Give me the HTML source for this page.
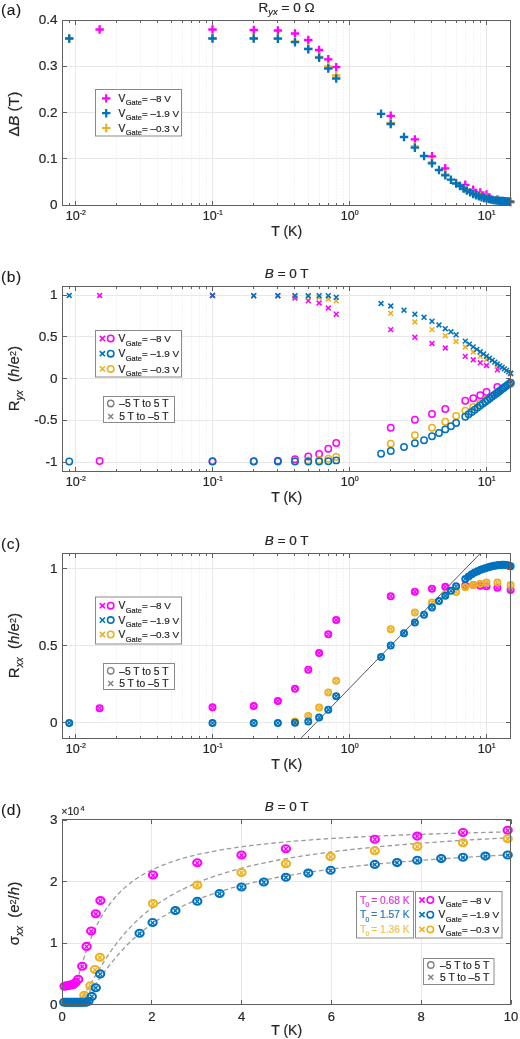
<!DOCTYPE html>
<html><head><meta charset="utf-8"><style>
html,body{margin:0;padding:0;background:#fff;}
svg{display:block;filter:blur(0.35px);}
text{font-family:"Liberation Sans",sans-serif;}
</style></head><body>
<svg width="520" height="1039" viewBox="0 0 520 1039">
<rect width="520" height="1039" fill="#fff"/>
<line x1="69.5" y1="20.5" x2="69.5" y2="205.5" stroke="#e8e8e8" stroke-width="1" stroke-dasharray="1 2"/>
<line x1="75.5" y1="20.5" x2="75.5" y2="205.5" stroke="#e8e8e8" stroke-width="1"/>
<line x1="116.5" y1="20.5" x2="116.5" y2="205.5" stroke="#e8e8e8" stroke-width="1" stroke-dasharray="1 2"/>
<line x1="140.5" y1="20.5" x2="140.5" y2="205.5" stroke="#e8e8e8" stroke-width="1" stroke-dasharray="1 2"/>
<line x1="157.5" y1="20.5" x2="157.5" y2="205.5" stroke="#e8e8e8" stroke-width="1" stroke-dasharray="1 2"/>
<line x1="171.5" y1="20.5" x2="171.5" y2="205.5" stroke="#e8e8e8" stroke-width="1" stroke-dasharray="1 2"/>
<line x1="182.5" y1="20.5" x2="182.5" y2="205.5" stroke="#e8e8e8" stroke-width="1" stroke-dasharray="1 2"/>
<line x1="191.5" y1="20.5" x2="191.5" y2="205.5" stroke="#e8e8e8" stroke-width="1" stroke-dasharray="1 2"/>
<line x1="199.5" y1="20.5" x2="199.5" y2="205.5" stroke="#e8e8e8" stroke-width="1" stroke-dasharray="1 2"/>
<line x1="206.5" y1="20.5" x2="206.5" y2="205.5" stroke="#e8e8e8" stroke-width="1" stroke-dasharray="1 2"/>
<line x1="212.5" y1="20.5" x2="212.5" y2="205.5" stroke="#e8e8e8" stroke-width="1"/>
<line x1="253.5" y1="20.5" x2="253.5" y2="205.5" stroke="#e8e8e8" stroke-width="1" stroke-dasharray="1 2"/>
<line x1="277.5" y1="20.5" x2="277.5" y2="205.5" stroke="#e8e8e8" stroke-width="1" stroke-dasharray="1 2"/>
<line x1="294.5" y1="20.5" x2="294.5" y2="205.5" stroke="#e8e8e8" stroke-width="1" stroke-dasharray="1 2"/>
<line x1="308.5" y1="20.5" x2="308.5" y2="205.5" stroke="#e8e8e8" stroke-width="1" stroke-dasharray="1 2"/>
<line x1="319.5" y1="20.5" x2="319.5" y2="205.5" stroke="#e8e8e8" stroke-width="1" stroke-dasharray="1 2"/>
<line x1="328.5" y1="20.5" x2="328.5" y2="205.5" stroke="#e8e8e8" stroke-width="1" stroke-dasharray="1 2"/>
<line x1="336.5" y1="20.5" x2="336.5" y2="205.5" stroke="#e8e8e8" stroke-width="1" stroke-dasharray="1 2"/>
<line x1="343.5" y1="20.5" x2="343.5" y2="205.5" stroke="#e8e8e8" stroke-width="1" stroke-dasharray="1 2"/>
<line x1="349.5" y1="20.5" x2="349.5" y2="205.5" stroke="#e8e8e8" stroke-width="1"/>
<line x1="390.5" y1="20.5" x2="390.5" y2="205.5" stroke="#e8e8e8" stroke-width="1" stroke-dasharray="1 2"/>
<line x1="414.5" y1="20.5" x2="414.5" y2="205.5" stroke="#e8e8e8" stroke-width="1" stroke-dasharray="1 2"/>
<line x1="431.5" y1="20.5" x2="431.5" y2="205.5" stroke="#e8e8e8" stroke-width="1" stroke-dasharray="1 2"/>
<line x1="445.5" y1="20.5" x2="445.5" y2="205.5" stroke="#e8e8e8" stroke-width="1" stroke-dasharray="1 2"/>
<line x1="456.5" y1="20.5" x2="456.5" y2="205.5" stroke="#e8e8e8" stroke-width="1" stroke-dasharray="1 2"/>
<line x1="465.5" y1="20.5" x2="465.5" y2="205.5" stroke="#e8e8e8" stroke-width="1" stroke-dasharray="1 2"/>
<line x1="473.5" y1="20.5" x2="473.5" y2="205.5" stroke="#e8e8e8" stroke-width="1" stroke-dasharray="1 2"/>
<line x1="480.5" y1="20.5" x2="480.5" y2="205.5" stroke="#e8e8e8" stroke-width="1" stroke-dasharray="1 2"/>
<line x1="486.5" y1="20.5" x2="486.5" y2="205.5" stroke="#e8e8e8" stroke-width="1"/>
<line x1="62.5" y1="158.5" x2="510.5" y2="158.5" stroke="#e8e8e8" stroke-width="1"/>
<line x1="62.5" y1="112.5" x2="510.5" y2="112.5" stroke="#e8e8e8" stroke-width="1"/>
<line x1="62.5" y1="66.5" x2="510.5" y2="66.5" stroke="#e8e8e8" stroke-width="1"/>
<path d="M95.42 29.5H103.82M99.62 25.3V33.7" stroke="#FF00FF" stroke-width="2.3" fill="none"/>
<path d="M208.3 29.5H216.7M212.5 25.3V33.7" stroke="#FF00FF" stroke-width="2.3" fill="none"/>
<path d="M249.54 30H257.94M253.74 25.8V34.2" stroke="#FF00FF" stroke-width="2.3" fill="none"/>
<path d="M273.67 30.5H282.07M277.87 26.3V34.7" stroke="#FF00FF" stroke-width="2.3" fill="none"/>
<path d="M290.78 33.5H299.18M294.98 29.3V37.7" stroke="#FF00FF" stroke-width="2.3" fill="none"/>
<path d="M304.06 40H312.46M308.26 35.8V44.2" stroke="#FF00FF" stroke-width="2.3" fill="none"/>
<path d="M314.91 50H323.31M319.11 45.8V54.2" stroke="#FF00FF" stroke-width="2.3" fill="none"/>
<path d="M324.08 59.3H332.48M328.28 55.1V63.5" stroke="#FF00FF" stroke-width="2.3" fill="none"/>
<path d="M332.02 67.2H340.42M336.22 63V71.4" stroke="#FF00FF" stroke-width="2.3" fill="none"/>
<path d="M386.54 115.8H394.94M390.74 111.6V120" stroke="#FF00FF" stroke-width="2.3" fill="none"/>
<path d="M410.67 139.4H419.07M414.87 135.2V143.6" stroke="#FF00FF" stroke-width="2.3" fill="none"/>
<path d="M427.78 156.3H436.18M431.98 152.1V160.5" stroke="#FF00FF" stroke-width="2.3" fill="none"/>
<path d="M441.06 168.3H449.46M445.26 164.1V172.5" stroke="#FF00FF" stroke-width="2.3" fill="none"/>
<path d="M461.08 184.8H469.48M465.28 180.6V189" stroke="#FF00FF" stroke-width="2.3" fill="none"/>
<path d="M469.02 189.8H477.42M473.22 185.6V194" stroke="#FF00FF" stroke-width="2.3" fill="none"/>
<path d="M476.03 192.4H484.43M480.23 188.2V196.6" stroke="#FF00FF" stroke-width="2.3" fill="none"/>
<path d="M482.3 194.4H490.7M486.5 190.2V198.6" stroke="#FF00FF" stroke-width="2.3" fill="none"/>
<path d="M493.15 199.5H501.55M497.35 195.3V203.7" stroke="#FF00FF" stroke-width="2.3" fill="none"/>
<path d="M506.42 202H514.82M510.62 197.8V206.2" stroke="#FF00FF" stroke-width="2.3" fill="none"/>
<path d="M65.03 38.5H73.43M69.23 34.3V42.7" stroke="#EDB120" stroke-width="2.3" fill="none"/>
<path d="M208.3 38.3H216.7M212.5 34.1V42.5" stroke="#EDB120" stroke-width="2.3" fill="none"/>
<path d="M249.54 38.3H257.94M253.74 34.1V42.5" stroke="#EDB120" stroke-width="2.3" fill="none"/>
<path d="M273.67 38.5H282.07M277.87 34.3V42.7" stroke="#EDB120" stroke-width="2.3" fill="none"/>
<path d="M290.78 41.3H299.18M294.98 37.1V45.5" stroke="#EDB120" stroke-width="2.3" fill="none"/>
<path d="M304.06 48.5H312.46M308.26 44.3V52.7" stroke="#EDB120" stroke-width="2.3" fill="none"/>
<path d="M314.91 56.8H323.31M319.11 52.6V61" stroke="#EDB120" stroke-width="2.3" fill="none"/>
<path d="M324.08 66.5H332.48M328.28 62.3V70.7" stroke="#EDB120" stroke-width="2.3" fill="none"/>
<path d="M332.02 75.5H340.42M336.22 71.3V79.7" stroke="#EDB120" stroke-width="2.3" fill="none"/>
<path d="M386.54 123H394.94M390.74 118.8V127.2" stroke="#EDB120" stroke-width="2.3" fill="none"/>
<path d="M410.67 146.5H419.07M414.87 142.3V150.7" stroke="#EDB120" stroke-width="2.3" fill="none"/>
<path d="M427.78 162.5H436.18M431.98 158.3V166.7" stroke="#EDB120" stroke-width="2.3" fill="none"/>
<path d="M441.06 174.5H449.46M445.26 170.3V178.7" stroke="#EDB120" stroke-width="2.3" fill="none"/>
<path d="M451.91 182.8H460.31M456.11 178.6V187" stroke="#EDB120" stroke-width="2.3" fill="none"/>
<path d="M461.08 189.3H469.48M465.28 185.1V193.5" stroke="#EDB120" stroke-width="2.3" fill="none"/>
<path d="M469.02 193.5H477.42M473.22 189.3V197.7" stroke="#EDB120" stroke-width="2.3" fill="none"/>
<path d="M476.03 196H484.43M480.23 191.8V200.2" stroke="#EDB120" stroke-width="2.3" fill="none"/>
<path d="M482.3 197.8H490.7M486.5 193.6V202" stroke="#EDB120" stroke-width="2.3" fill="none"/>
<path d="M493.15 200H501.55M497.35 195.8V204.2" stroke="#EDB120" stroke-width="2.3" fill="none"/>
<path d="M506.42 202H514.82M510.62 197.8V206.2" stroke="#EDB120" stroke-width="2.3" fill="none"/>
<path d="M65.03 38.5H73.43M69.23 34.3V42.7" stroke="#0072BD" stroke-width="2.3" fill="none"/>
<path d="M208.3 38.5H216.7M212.5 34.3V42.7" stroke="#0072BD" stroke-width="2.3" fill="none"/>
<path d="M249.54 38.5H257.94M253.74 34.3V42.7" stroke="#0072BD" stroke-width="2.3" fill="none"/>
<path d="M273.67 38.7H282.07M277.87 34.5V42.9" stroke="#0072BD" stroke-width="2.3" fill="none"/>
<path d="M290.78 42.2H299.18M294.98 38V46.4" stroke="#0072BD" stroke-width="2.3" fill="none"/>
<path d="M304.06 49.2H312.46M308.26 45V53.4" stroke="#0072BD" stroke-width="2.3" fill="none"/>
<path d="M314.91 57.7H323.31M319.11 53.5V61.9" stroke="#0072BD" stroke-width="2.3" fill="none"/>
<path d="M324.08 68.5H332.48M328.28 64.3V72.7" stroke="#0072BD" stroke-width="2.3" fill="none"/>
<path d="M332.02 78.5H340.42M336.22 74.3V82.7" stroke="#0072BD" stroke-width="2.3" fill="none"/>
<path d="M376.87 113.8H385.27M381.07 109.6V118" stroke="#0072BD" stroke-width="2.3" fill="none"/>
<path d="M386.54 124H394.94M390.74 119.8V128.2" stroke="#0072BD" stroke-width="2.3" fill="none"/>
<path d="M399.82 137H408.22M404.02 132.8V141.2" stroke="#0072BD" stroke-width="2.3" fill="none"/>
<path d="M410.67 147.7H419.07M414.87 143.5V151.9" stroke="#0072BD" stroke-width="2.3" fill="none"/>
<path d="M419.84 156H428.24M424.04 151.8V160.2" stroke="#0072BD" stroke-width="2.3" fill="none"/>
<path d="M427.78 163.4H436.18M431.98 159.2V167.6" stroke="#0072BD" stroke-width="2.3" fill="none"/>
<path d="M434.79 170H443.19M438.99 165.8V174.2" stroke="#0072BD" stroke-width="2.3" fill="none"/>
<path d="M441.06 175.4H449.46M445.26 171.2V179.6" stroke="#0072BD" stroke-width="2.3" fill="none"/>
<path d="M446.73 179.7H455.13M450.93 175.5V183.9" stroke="#0072BD" stroke-width="2.3" fill="none"/>
<path d="M451.91 183.5H460.31M456.11 179.3V187.7" stroke="#0072BD" stroke-width="2.3" fill="none"/>
<path d="M455.75 186.01H464.15M459.95 181.81V190.21" stroke="#0072BD" stroke-width="2.3" fill="none"/>
<path d="M459.35 188.5H467.75M463.55 184.3V192.7" stroke="#0072BD" stroke-width="2.3" fill="none"/>
<path d="M462.75 190.6H471.15M466.95 186.4V194.8" stroke="#0072BD" stroke-width="2.3" fill="none"/>
<path d="M465.97 192.41H474.37M470.17 188.21V196.61" stroke="#0072BD" stroke-width="2.3" fill="none"/>
<path d="M469.02 194.09H477.42M473.22 189.89V198.29" stroke="#0072BD" stroke-width="2.3" fill="none"/>
<path d="M471.93 195.25H480.33M476.13 191.05V199.45" stroke="#0072BD" stroke-width="2.3" fill="none"/>
<path d="M474.69 196.36H483.09M478.89 192.16V200.56" stroke="#0072BD" stroke-width="2.3" fill="none"/>
<path d="M477.34 197.23H485.74M481.54 193.03V201.43" stroke="#0072BD" stroke-width="2.3" fill="none"/>
<path d="M479.87 197.93H488.27M484.07 193.73V202.13" stroke="#0072BD" stroke-width="2.3" fill="none"/>
<path d="M482.3 198.6H490.7M486.5 194.4V202.8" stroke="#0072BD" stroke-width="2.3" fill="none"/>
<path d="M484.63 199.07H493.03M488.83 194.87V203.27" stroke="#0072BD" stroke-width="2.3" fill="none"/>
<path d="M486.88 199.52H495.28M491.08 195.32V203.72" stroke="#0072BD" stroke-width="2.3" fill="none"/>
<path d="M489.04 199.95H497.44M493.24 195.75V204.15" stroke="#0072BD" stroke-width="2.3" fill="none"/>
<path d="M491.13 200.33H499.53M495.33 196.13V204.53" stroke="#0072BD" stroke-width="2.3" fill="none"/>
<path d="M493.15 200.52H501.55M497.35 196.32V204.72" stroke="#0072BD" stroke-width="2.3" fill="none"/>
<path d="M495.1 200.7H503.5M499.3 196.5V204.9" stroke="#0072BD" stroke-width="2.3" fill="none"/>
<path d="M496.99 200.88H505.39M501.19 196.68V205.08" stroke="#0072BD" stroke-width="2.3" fill="none"/>
<path d="M498.82 201.05H507.22M503.02 196.85V205.25" stroke="#0072BD" stroke-width="2.3" fill="none"/>
<path d="M500.59 201.22H508.99M504.79 197.02V205.42" stroke="#0072BD" stroke-width="2.3" fill="none"/>
<path d="M502.32 201.38H510.72M506.52 197.18V205.58" stroke="#0072BD" stroke-width="2.3" fill="none"/>
<path d="M504 201.54H512.4M508.2 197.34V205.74" stroke="#0072BD" stroke-width="2.3" fill="none"/>
<path d="M505.63 201.69H514.03M509.83 197.49V205.89" stroke="#0072BD" stroke-width="2.3" fill="none"/>
<path d="M69.5 205.5v-2.5M69.5 20.5v2.5M75.5 205.5v-4.5M75.5 20.5v4.5M116.5 205.5v-2.5M116.5 20.5v2.5M140.5 205.5v-2.5M140.5 20.5v2.5M157.5 205.5v-2.5M157.5 20.5v2.5M171.5 205.5v-2.5M171.5 20.5v2.5M182.5 205.5v-2.5M182.5 20.5v2.5M191.5 205.5v-2.5M191.5 20.5v2.5M199.5 205.5v-2.5M199.5 20.5v2.5M206.5 205.5v-2.5M206.5 20.5v2.5M212.5 205.5v-4.5M212.5 20.5v4.5M253.5 205.5v-2.5M253.5 20.5v2.5M277.5 205.5v-2.5M277.5 20.5v2.5M294.5 205.5v-2.5M294.5 20.5v2.5M308.5 205.5v-2.5M308.5 20.5v2.5M319.5 205.5v-2.5M319.5 20.5v2.5M328.5 205.5v-2.5M328.5 20.5v2.5M336.5 205.5v-2.5M336.5 20.5v2.5M343.5 205.5v-2.5M343.5 20.5v2.5M349.5 205.5v-4.5M349.5 20.5v4.5M390.5 205.5v-2.5M390.5 20.5v2.5M414.5 205.5v-2.5M414.5 20.5v2.5M431.5 205.5v-2.5M431.5 20.5v2.5M445.5 205.5v-2.5M445.5 20.5v2.5M456.5 205.5v-2.5M456.5 20.5v2.5M465.5 205.5v-2.5M465.5 20.5v2.5M473.5 205.5v-2.5M473.5 20.5v2.5M480.5 205.5v-2.5M480.5 20.5v2.5M486.5 205.5v-4.5M486.5 20.5v4.5M62.5 205.5h4.5M510.5 205.5h-4.5M62.5 158.5h4.5M510.5 158.5h-4.5M62.5 112.5h4.5M510.5 112.5h-4.5M62.5 66.5h4.5M510.5 66.5h-4.5M62.5 20.5h4.5M510.5 20.5h-4.5" stroke="#606060" stroke-width="1" fill="none"/>
<rect x="62.5" y="20.5" width="448.0" height="185.0" fill="none" stroke="#606060" stroke-width="1"/>
<text x="57.5" y="209.1" font-size="13.5" text-anchor="end" fill="#262626" stroke="#262626" stroke-width="0.2" >0</text>
<text x="57.5" y="162.85" font-size="13.5" text-anchor="end" fill="#262626" stroke="#262626" stroke-width="0.2" >0.1</text>
<text x="57.5" y="116.6" font-size="13.5" text-anchor="end" fill="#262626" stroke="#262626" stroke-width="0.2" >0.2</text>
<text x="57.5" y="70.35" font-size="13.5" text-anchor="end" fill="#262626" stroke="#262626" stroke-width="0.2" >0.3</text>
<text x="57.5" y="24.1" font-size="13.5" text-anchor="end" fill="#262626" stroke="#262626" stroke-width="0.2" >0.4</text>
<text x="65.75" y="220" font-size="12.5" text-anchor="start" fill="#262626" stroke="#262626" stroke-width="0.2" >10</text>
<text x="79.65" y="215" font-size="7" text-anchor="start" fill="#262626" stroke="#262626" stroke-width="0.2" >-2</text>
<text x="202.75" y="220" font-size="12.5" text-anchor="start" fill="#262626" stroke="#262626" stroke-width="0.2" >10</text>
<text x="216.65" y="215" font-size="7" text-anchor="start" fill="#262626" stroke="#262626" stroke-width="0.2" >-1</text>
<text x="340.75" y="220" font-size="12.5" text-anchor="start" fill="#262626" stroke="#262626" stroke-width="0.2" >10</text>
<text x="354.65" y="215" font-size="7" text-anchor="start" fill="#262626" stroke="#262626" stroke-width="0.2" >0</text>
<text x="477.75" y="220" font-size="12.5" text-anchor="start" fill="#262626" stroke="#262626" stroke-width="0.2" >10</text>
<text x="491.65" y="215" font-size="7" text-anchor="start" fill="#262626" stroke="#262626" stroke-width="0.2" >1</text>
<text x="286.7" y="235.5" font-size="14" text-anchor="middle" fill="#262626" stroke="#262626" stroke-width="0.2" >T (K)</text>
<text x="258.5" y="12" font-size="13.5" fill="#262626" stroke="#262626" stroke-width="0.2" xml:space="preserve">R<tspan font-size="9.5" font-style="italic" dy="3">yx</tspan><tspan dy="-3"> = 0 Ω</tspan></text>
<text x="1" y="15.2" font-size="15.5" text-anchor="start" fill="#1a1a1a"  letter-spacing="0.6" stroke="#1a1a1a" stroke-width="0.12">(a)</text>
<text transform="translate(19.3,114) rotate(-90)" font-size="15.5" text-anchor="middle" fill="#262626" stroke="#262626" stroke-width="0.2">Δ<tspan font-style="italic">B</tspan> (T)</text>
<rect x="95.5" y="89.5" width="86" height="46.5" fill="#fff" stroke="#8a8a8a" stroke-width="1"/>
<path d="M102 98.4H110.4M106.2 94.2V102.6" stroke="#FF00FF" stroke-width="2.2" fill="none"/>
<text x="118.6" y="102" font-size="10.3" text-anchor="start" fill="#262626" stroke="#262626" stroke-width="0.2" >V</text>
<text x="125.8" y="105.4" font-size="7.4" text-anchor="start" fill="#262626" stroke="#262626" stroke-width="0.2" >Gate</text>
<text x="142" y="102" font-size="9.9" text-anchor="start" fill="#262626" stroke="#262626" stroke-width="0.2" >= –8 V</text>
<path d="M102 113.2H110.4M106.2 109V117.4" stroke="#0072BD" stroke-width="2.2" fill="none"/>
<text x="118.6" y="116.8" font-size="10.3" text-anchor="start" fill="#262626" stroke="#262626" stroke-width="0.2" >V</text>
<text x="125.8" y="120.2" font-size="7.4" text-anchor="start" fill="#262626" stroke="#262626" stroke-width="0.2" >Gate</text>
<text x="142" y="116.8" font-size="9.9" text-anchor="start" fill="#262626" stroke="#262626" stroke-width="0.2" >= –1.9 V</text>
<path d="M102 128H110.4M106.2 123.8V132.2" stroke="#EDB120" stroke-width="2.2" fill="none"/>
<text x="118.6" y="131.6" font-size="10.3" text-anchor="start" fill="#262626" stroke="#262626" stroke-width="0.2" >V</text>
<text x="125.8" y="135" font-size="7.4" text-anchor="start" fill="#262626" stroke="#262626" stroke-width="0.2" >Gate</text>
<text x="142" y="131.6" font-size="9.9" text-anchor="start" fill="#262626" stroke="#262626" stroke-width="0.2" >= –0.3 V</text>
<line x1="69.5" y1="286.5" x2="69.5" y2="471.5" stroke="#e8e8e8" stroke-width="1" stroke-dasharray="1 2"/>
<line x1="75.5" y1="286.5" x2="75.5" y2="471.5" stroke="#e8e8e8" stroke-width="1"/>
<line x1="116.5" y1="286.5" x2="116.5" y2="471.5" stroke="#e8e8e8" stroke-width="1" stroke-dasharray="1 2"/>
<line x1="140.5" y1="286.5" x2="140.5" y2="471.5" stroke="#e8e8e8" stroke-width="1" stroke-dasharray="1 2"/>
<line x1="157.5" y1="286.5" x2="157.5" y2="471.5" stroke="#e8e8e8" stroke-width="1" stroke-dasharray="1 2"/>
<line x1="171.5" y1="286.5" x2="171.5" y2="471.5" stroke="#e8e8e8" stroke-width="1" stroke-dasharray="1 2"/>
<line x1="182.5" y1="286.5" x2="182.5" y2="471.5" stroke="#e8e8e8" stroke-width="1" stroke-dasharray="1 2"/>
<line x1="191.5" y1="286.5" x2="191.5" y2="471.5" stroke="#e8e8e8" stroke-width="1" stroke-dasharray="1 2"/>
<line x1="199.5" y1="286.5" x2="199.5" y2="471.5" stroke="#e8e8e8" stroke-width="1" stroke-dasharray="1 2"/>
<line x1="206.5" y1="286.5" x2="206.5" y2="471.5" stroke="#e8e8e8" stroke-width="1" stroke-dasharray="1 2"/>
<line x1="212.5" y1="286.5" x2="212.5" y2="471.5" stroke="#e8e8e8" stroke-width="1"/>
<line x1="253.5" y1="286.5" x2="253.5" y2="471.5" stroke="#e8e8e8" stroke-width="1" stroke-dasharray="1 2"/>
<line x1="277.5" y1="286.5" x2="277.5" y2="471.5" stroke="#e8e8e8" stroke-width="1" stroke-dasharray="1 2"/>
<line x1="294.5" y1="286.5" x2="294.5" y2="471.5" stroke="#e8e8e8" stroke-width="1" stroke-dasharray="1 2"/>
<line x1="308.5" y1="286.5" x2="308.5" y2="471.5" stroke="#e8e8e8" stroke-width="1" stroke-dasharray="1 2"/>
<line x1="319.5" y1="286.5" x2="319.5" y2="471.5" stroke="#e8e8e8" stroke-width="1" stroke-dasharray="1 2"/>
<line x1="328.5" y1="286.5" x2="328.5" y2="471.5" stroke="#e8e8e8" stroke-width="1" stroke-dasharray="1 2"/>
<line x1="336.5" y1="286.5" x2="336.5" y2="471.5" stroke="#e8e8e8" stroke-width="1" stroke-dasharray="1 2"/>
<line x1="343.5" y1="286.5" x2="343.5" y2="471.5" stroke="#e8e8e8" stroke-width="1" stroke-dasharray="1 2"/>
<line x1="349.5" y1="286.5" x2="349.5" y2="471.5" stroke="#e8e8e8" stroke-width="1"/>
<line x1="390.5" y1="286.5" x2="390.5" y2="471.5" stroke="#e8e8e8" stroke-width="1" stroke-dasharray="1 2"/>
<line x1="414.5" y1="286.5" x2="414.5" y2="471.5" stroke="#e8e8e8" stroke-width="1" stroke-dasharray="1 2"/>
<line x1="431.5" y1="286.5" x2="431.5" y2="471.5" stroke="#e8e8e8" stroke-width="1" stroke-dasharray="1 2"/>
<line x1="445.5" y1="286.5" x2="445.5" y2="471.5" stroke="#e8e8e8" stroke-width="1" stroke-dasharray="1 2"/>
<line x1="456.5" y1="286.5" x2="456.5" y2="471.5" stroke="#e8e8e8" stroke-width="1" stroke-dasharray="1 2"/>
<line x1="465.5" y1="286.5" x2="465.5" y2="471.5" stroke="#e8e8e8" stroke-width="1" stroke-dasharray="1 2"/>
<line x1="473.5" y1="286.5" x2="473.5" y2="471.5" stroke="#e8e8e8" stroke-width="1" stroke-dasharray="1 2"/>
<line x1="480.5" y1="286.5" x2="480.5" y2="471.5" stroke="#e8e8e8" stroke-width="1" stroke-dasharray="1 2"/>
<line x1="486.5" y1="286.5" x2="486.5" y2="471.5" stroke="#e8e8e8" stroke-width="1"/>
<line x1="62.5" y1="462.5" x2="510.5" y2="462.5" stroke="#e8e8e8" stroke-width="1"/>
<line x1="62.5" y1="420.5" x2="510.5" y2="420.5" stroke="#e8e8e8" stroke-width="1"/>
<line x1="62.5" y1="378.5" x2="510.5" y2="378.5" stroke="#e8e8e8" stroke-width="1"/>
<line x1="62.5" y1="336.5" x2="510.5" y2="336.5" stroke="#e8e8e8" stroke-width="1"/>
<line x1="62.5" y1="295.5" x2="510.5" y2="295.5" stroke="#e8e8e8" stroke-width="1"/>
<circle cx="99.62" cy="461" r="3.2" stroke="#FF00FF" stroke-width="1.5" fill="none"/>
<circle cx="212.5" cy="461.3" r="3.2" stroke="#FF00FF" stroke-width="1.5" fill="none"/>
<circle cx="253.74" cy="461.3" r="3.2" stroke="#FF00FF" stroke-width="1.5" fill="none"/>
<circle cx="277.87" cy="460.8" r="3.2" stroke="#FF00FF" stroke-width="1.5" fill="none"/>
<circle cx="294.98" cy="459.2" r="3.2" stroke="#FF00FF" stroke-width="1.5" fill="none"/>
<circle cx="308.26" cy="456.5" r="3.2" stroke="#FF00FF" stroke-width="1.5" fill="none"/>
<circle cx="319.11" cy="454" r="3.2" stroke="#FF00FF" stroke-width="1.5" fill="none"/>
<circle cx="328.28" cy="448.8" r="3.2" stroke="#FF00FF" stroke-width="1.5" fill="none"/>
<circle cx="336.22" cy="443" r="3.2" stroke="#FF00FF" stroke-width="1.5" fill="none"/>
<circle cx="390.74" cy="427.8" r="3.2" stroke="#FF00FF" stroke-width="1.5" fill="none"/>
<circle cx="414.87" cy="419.8" r="3.2" stroke="#FF00FF" stroke-width="1.5" fill="none"/>
<circle cx="431.98" cy="414" r="3.2" stroke="#FF00FF" stroke-width="1.5" fill="none"/>
<circle cx="445.26" cy="409" r="3.2" stroke="#FF00FF" stroke-width="1.5" fill="none"/>
<circle cx="465.28" cy="400.8" r="3.2" stroke="#FF00FF" stroke-width="1.5" fill="none"/>
<circle cx="473.22" cy="398.3" r="3.2" stroke="#FF00FF" stroke-width="1.5" fill="none"/>
<circle cx="480.23" cy="395.2" r="3.2" stroke="#FF00FF" stroke-width="1.5" fill="none"/>
<circle cx="486.5" cy="392" r="3.2" stroke="#FF00FF" stroke-width="1.5" fill="none"/>
<circle cx="497.35" cy="387" r="3.2" stroke="#FF00FF" stroke-width="1.5" fill="none"/>
<circle cx="510.62" cy="383" r="3.2" stroke="#FF00FF" stroke-width="1.5" fill="none"/>
<path d="M97.22 293.1L102.02 297.9M97.22 297.9L102.02 293.1" stroke="#FF00FF" stroke-width="1.5" fill="none"/>
<path d="M210.1 293.1L214.9 297.9M210.1 297.9L214.9 293.1" stroke="#FF00FF" stroke-width="1.5" fill="none"/>
<path d="M251.34 293.3L256.14 298.1M251.34 298.1L256.14 293.3" stroke="#FF00FF" stroke-width="1.5" fill="none"/>
<path d="M275.47 293.3L280.27 298.1M275.47 298.1L280.27 293.3" stroke="#FF00FF" stroke-width="1.5" fill="none"/>
<path d="M292.58 295.6L297.38 300.4M292.58 300.4L297.38 295.6" stroke="#FF00FF" stroke-width="1.5" fill="none"/>
<path d="M305.86 298.4L310.66 303.2M305.86 303.2L310.66 298.4" stroke="#FF00FF" stroke-width="1.5" fill="none"/>
<path d="M316.71 300.6L321.51 305.4M316.71 305.4L321.51 300.6" stroke="#FF00FF" stroke-width="1.5" fill="none"/>
<path d="M325.88 305.6L330.68 310.4M325.88 310.4L330.68 305.6" stroke="#FF00FF" stroke-width="1.5" fill="none"/>
<path d="M333.82 311.8L338.62 316.6M333.82 316.6L338.62 311.8" stroke="#FF00FF" stroke-width="1.5" fill="none"/>
<path d="M388.34 327.2L393.14 332M388.34 332L393.14 327.2" stroke="#FF00FF" stroke-width="1.5" fill="none"/>
<path d="M412.47 334.9L417.27 339.7M412.47 339.7L417.27 334.9" stroke="#FF00FF" stroke-width="1.5" fill="none"/>
<path d="M429.58 341.1L434.38 345.9M429.58 345.9L434.38 341.1" stroke="#FF00FF" stroke-width="1.5" fill="none"/>
<path d="M442.86 345.6L447.66 350.4M442.86 350.4L447.66 345.6" stroke="#FF00FF" stroke-width="1.5" fill="none"/>
<path d="M462.88 354L467.68 358.8M462.88 358.8L467.68 354" stroke="#FF00FF" stroke-width="1.5" fill="none"/>
<path d="M470.82 357.4L475.62 362.2M470.82 362.2L475.62 357.4" stroke="#FF00FF" stroke-width="1.5" fill="none"/>
<path d="M477.83 360.4L482.63 365.2M477.83 365.2L482.63 360.4" stroke="#FF00FF" stroke-width="1.5" fill="none"/>
<path d="M484.1 363.1L488.9 367.9M484.1 367.9L488.9 363.1" stroke="#FF00FF" stroke-width="1.5" fill="none"/>
<path d="M494.95 367.4L499.75 372.2M494.95 372.2L499.75 367.4" stroke="#FF00FF" stroke-width="1.5" fill="none"/>
<path d="M508.22 371.1L513.02 375.9M508.22 375.9L513.02 371.1" stroke="#FF00FF" stroke-width="1.5" fill="none"/>
<circle cx="294.98" cy="461" r="3.2" stroke="#EDB120" stroke-width="1.5" fill="none"/>
<circle cx="308.26" cy="460.5" r="3.2" stroke="#EDB120" stroke-width="1.5" fill="none"/>
<circle cx="319.11" cy="460" r="3.2" stroke="#EDB120" stroke-width="1.5" fill="none"/>
<circle cx="328.28" cy="458.8" r="3.2" stroke="#EDB120" stroke-width="1.5" fill="none"/>
<circle cx="336.22" cy="457" r="3.2" stroke="#EDB120" stroke-width="1.5" fill="none"/>
<circle cx="390.74" cy="443.8" r="3.2" stroke="#EDB120" stroke-width="1.5" fill="none"/>
<circle cx="414.87" cy="435.2" r="3.2" stroke="#EDB120" stroke-width="1.5" fill="none"/>
<circle cx="431.98" cy="427.8" r="3.2" stroke="#EDB120" stroke-width="1.5" fill="none"/>
<circle cx="445.26" cy="421.7" r="3.2" stroke="#EDB120" stroke-width="1.5" fill="none"/>
<circle cx="456.11" cy="416" r="3.2" stroke="#EDB120" stroke-width="1.5" fill="none"/>
<circle cx="465.28" cy="410.6" r="3.2" stroke="#EDB120" stroke-width="1.5" fill="none"/>
<circle cx="473.22" cy="407" r="3.2" stroke="#EDB120" stroke-width="1.5" fill="none"/>
<circle cx="480.23" cy="403" r="3.2" stroke="#EDB120" stroke-width="1.5" fill="none"/>
<circle cx="486.5" cy="399.5" r="3.2" stroke="#EDB120" stroke-width="1.5" fill="none"/>
<circle cx="497.35" cy="392" r="3.2" stroke="#EDB120" stroke-width="1.5" fill="none"/>
<circle cx="510.62" cy="384" r="3.2" stroke="#EDB120" stroke-width="1.5" fill="none"/>
<path d="M292.58 293.6L297.38 298.4M292.58 298.4L297.38 293.6" stroke="#EDB120" stroke-width="1.5" fill="none"/>
<path d="M305.86 294.1L310.66 298.9M305.86 298.9L310.66 294.1" stroke="#EDB120" stroke-width="1.5" fill="none"/>
<path d="M316.71 295.1L321.51 299.9M316.71 299.9L321.51 295.1" stroke="#EDB120" stroke-width="1.5" fill="none"/>
<path d="M325.88 296.6L330.68 301.4M325.88 301.4L330.68 296.6" stroke="#EDB120" stroke-width="1.5" fill="none"/>
<path d="M333.82 298.4L338.62 303.2M333.82 303.2L338.62 298.4" stroke="#EDB120" stroke-width="1.5" fill="none"/>
<path d="M388.34 310.9L393.14 315.7M388.34 315.7L393.14 310.9" stroke="#EDB120" stroke-width="1.5" fill="none"/>
<path d="M412.47 319.6L417.27 324.4M412.47 324.4L417.27 319.6" stroke="#EDB120" stroke-width="1.5" fill="none"/>
<path d="M429.58 327.2L434.38 332M429.58 332L434.38 327.2" stroke="#EDB120" stroke-width="1.5" fill="none"/>
<path d="M442.86 333.4L447.66 338.2M442.86 338.2L447.66 333.4" stroke="#EDB120" stroke-width="1.5" fill="none"/>
<path d="M453.71 339.1L458.51 343.9M453.71 343.9L458.51 339.1" stroke="#EDB120" stroke-width="1.5" fill="none"/>
<path d="M462.88 344.6L467.68 349.4M462.88 349.4L467.68 344.6" stroke="#EDB120" stroke-width="1.5" fill="none"/>
<path d="M470.82 349.6L475.62 354.4M470.82 354.4L475.62 349.6" stroke="#EDB120" stroke-width="1.5" fill="none"/>
<path d="M477.83 353.9L482.63 358.7M477.83 358.7L482.63 353.9" stroke="#EDB120" stroke-width="1.5" fill="none"/>
<path d="M484.1 357.1L488.9 361.9M484.1 361.9L488.9 357.1" stroke="#EDB120" stroke-width="1.5" fill="none"/>
<path d="M494.95 363.6L499.75 368.4M494.95 368.4L499.75 363.6" stroke="#EDB120" stroke-width="1.5" fill="none"/>
<path d="M508.22 371.1L513.02 375.9M508.22 375.9L513.02 371.1" stroke="#EDB120" stroke-width="1.5" fill="none"/>
<circle cx="69.23" cy="461.5" r="3.2" stroke="#0072BD" stroke-width="1.5" fill="none"/>
<circle cx="212.5" cy="461.5" r="3.2" stroke="#0072BD" stroke-width="1.5" fill="none"/>
<circle cx="253.74" cy="461.5" r="3.2" stroke="#0072BD" stroke-width="1.5" fill="none"/>
<circle cx="277.87" cy="461.5" r="3.2" stroke="#0072BD" stroke-width="1.5" fill="none"/>
<circle cx="294.98" cy="461.5" r="3.2" stroke="#0072BD" stroke-width="1.5" fill="none"/>
<circle cx="308.26" cy="461.5" r="3.2" stroke="#0072BD" stroke-width="1.5" fill="none"/>
<circle cx="319.11" cy="461.5" r="3.2" stroke="#0072BD" stroke-width="1.5" fill="none"/>
<circle cx="328.28" cy="461.3" r="3.2" stroke="#0072BD" stroke-width="1.5" fill="none"/>
<circle cx="336.22" cy="460.4" r="3.2" stroke="#0072BD" stroke-width="1.5" fill="none"/>
<circle cx="381.07" cy="453.7" r="3.2" stroke="#0072BD" stroke-width="1.5" fill="none"/>
<circle cx="390.74" cy="451" r="3.2" stroke="#0072BD" stroke-width="1.5" fill="none"/>
<circle cx="404.02" cy="447" r="3.2" stroke="#0072BD" stroke-width="1.5" fill="none"/>
<circle cx="414.87" cy="443.2" r="3.2" stroke="#0072BD" stroke-width="1.5" fill="none"/>
<circle cx="424.04" cy="440.2" r="3.2" stroke="#0072BD" stroke-width="1.5" fill="none"/>
<circle cx="431.98" cy="436.2" r="3.2" stroke="#0072BD" stroke-width="1.5" fill="none"/>
<circle cx="438.99" cy="433" r="3.2" stroke="#0072BD" stroke-width="1.5" fill="none"/>
<circle cx="445.26" cy="429.4" r="3.2" stroke="#0072BD" stroke-width="1.5" fill="none"/>
<circle cx="450.93" cy="426.3" r="3.2" stroke="#0072BD" stroke-width="1.5" fill="none"/>
<circle cx="456.11" cy="423" r="3.2" stroke="#0072BD" stroke-width="1.5" fill="none"/>
<circle cx="465.28" cy="416.82" r="3.2" stroke="#0072BD" stroke-width="1.5" fill="none"/>
<circle cx="468.58" cy="414.32" r="3.2" stroke="#0072BD" stroke-width="1.5" fill="none"/>
<circle cx="471.72" cy="411.96" r="3.2" stroke="#0072BD" stroke-width="1.5" fill="none"/>
<circle cx="474.69" cy="409.72" r="3.2" stroke="#0072BD" stroke-width="1.5" fill="none"/>
<circle cx="477.53" cy="407.58" r="3.2" stroke="#0072BD" stroke-width="1.5" fill="none"/>
<circle cx="480.23" cy="405.54" r="3.2" stroke="#0072BD" stroke-width="1.5" fill="none"/>
<circle cx="482.82" cy="403.59" r="3.2" stroke="#0072BD" stroke-width="1.5" fill="none"/>
<circle cx="485.3" cy="401.72" r="3.2" stroke="#0072BD" stroke-width="1.5" fill="none"/>
<circle cx="487.68" cy="399.93" r="3.2" stroke="#0072BD" stroke-width="1.5" fill="none"/>
<circle cx="489.97" cy="398.2" r="3.2" stroke="#0072BD" stroke-width="1.5" fill="none"/>
<circle cx="492.17" cy="396.54" r="3.2" stroke="#0072BD" stroke-width="1.5" fill="none"/>
<circle cx="494.3" cy="394.94" r="3.2" stroke="#0072BD" stroke-width="1.5" fill="none"/>
<circle cx="496.35" cy="393.39" r="3.2" stroke="#0072BD" stroke-width="1.5" fill="none"/>
<circle cx="498.33" cy="391.89" r="3.2" stroke="#0072BD" stroke-width="1.5" fill="none"/>
<circle cx="500.25" cy="390.45" r="3.2" stroke="#0072BD" stroke-width="1.5" fill="none"/>
<circle cx="502.11" cy="389.05" r="3.2" stroke="#0072BD" stroke-width="1.5" fill="none"/>
<circle cx="503.91" cy="387.69" r="3.2" stroke="#0072BD" stroke-width="1.5" fill="none"/>
<circle cx="505.66" cy="386.37" r="3.2" stroke="#0072BD" stroke-width="1.5" fill="none"/>
<circle cx="507.36" cy="385.08" r="3.2" stroke="#0072BD" stroke-width="1.5" fill="none"/>
<circle cx="509.02" cy="383.84" r="3.2" stroke="#0072BD" stroke-width="1.5" fill="none"/>
<circle cx="510.62" cy="382.63" r="3.2" stroke="#0072BD" stroke-width="1.5" fill="none"/>
<path d="M66.83 293.1L71.63 297.9M66.83 297.9L71.63 293.1" stroke="#0072BD" stroke-width="1.5" fill="none"/>
<path d="M210.1 293.1L214.9 297.9M210.1 297.9L214.9 293.1" stroke="#0072BD" stroke-width="1.5" fill="none"/>
<path d="M251.34 293.3L256.14 298.1M251.34 298.1L256.14 293.3" stroke="#0072BD" stroke-width="1.5" fill="none"/>
<path d="M275.47 293.3L280.27 298.1M275.47 298.1L280.27 293.3" stroke="#0072BD" stroke-width="1.5" fill="none"/>
<path d="M292.58 293.3L297.38 298.1M292.58 298.1L297.38 293.3" stroke="#0072BD" stroke-width="1.5" fill="none"/>
<path d="M305.86 293.3L310.66 298.1M305.86 298.1L310.66 293.3" stroke="#0072BD" stroke-width="1.5" fill="none"/>
<path d="M316.71 293.3L321.51 298.1M316.71 298.1L321.51 293.3" stroke="#0072BD" stroke-width="1.5" fill="none"/>
<path d="M325.88 293.3L330.68 298.1M325.88 298.1L330.68 293.3" stroke="#0072BD" stroke-width="1.5" fill="none"/>
<path d="M333.82 294.9L338.62 299.7M333.82 299.7L338.62 294.9" stroke="#0072BD" stroke-width="1.5" fill="none"/>
<path d="M378.67 301.1L383.47 305.9M378.67 305.9L383.47 301.1" stroke="#0072BD" stroke-width="1.5" fill="none"/>
<path d="M388.34 303.6L393.14 308.4M388.34 308.4L393.14 303.6" stroke="#0072BD" stroke-width="1.5" fill="none"/>
<path d="M401.62 307.8L406.42 312.6M401.62 312.6L406.42 307.8" stroke="#0072BD" stroke-width="1.5" fill="none"/>
<path d="M412.47 311.8L417.27 316.6M412.47 316.6L417.27 311.8" stroke="#0072BD" stroke-width="1.5" fill="none"/>
<path d="M421.64 314.9L426.44 319.7M421.64 319.7L426.44 314.9" stroke="#0072BD" stroke-width="1.5" fill="none"/>
<path d="M429.58 318.9L434.38 323.7M429.58 323.7L434.38 318.9" stroke="#0072BD" stroke-width="1.5" fill="none"/>
<path d="M436.59 322.6L441.39 327.4M436.59 327.4L441.39 322.6" stroke="#0072BD" stroke-width="1.5" fill="none"/>
<path d="M442.86 326.3L447.66 331.1M442.86 331.1L447.66 326.3" stroke="#0072BD" stroke-width="1.5" fill="none"/>
<path d="M448.53 329.4L453.33 334.2M448.53 334.2L453.33 329.4" stroke="#0072BD" stroke-width="1.5" fill="none"/>
<path d="M453.71 332.4L458.51 337.2M453.71 337.2L458.51 332.4" stroke="#0072BD" stroke-width="1.5" fill="none"/>
<path d="M462.88 338.78L467.68 343.58M462.88 343.58L467.68 338.78" stroke="#0072BD" stroke-width="1.5" fill="none"/>
<path d="M466.98 341.69L471.78 346.49M466.98 346.49L471.78 341.69" stroke="#0072BD" stroke-width="1.5" fill="none"/>
<path d="M470.82 344.41L475.62 349.21M470.82 349.21L475.62 344.41" stroke="#0072BD" stroke-width="1.5" fill="none"/>
<path d="M474.43 346.96L479.23 351.76M474.43 351.76L479.23 346.96" stroke="#0072BD" stroke-width="1.5" fill="none"/>
<path d="M477.83 349.37L482.63 354.17M477.83 354.17L482.63 349.37" stroke="#0072BD" stroke-width="1.5" fill="none"/>
<path d="M481.05 351.65L485.85 356.45M481.05 356.45L485.85 351.65" stroke="#0072BD" stroke-width="1.5" fill="none"/>
<path d="M484.1 353.81L488.9 358.61M484.1 358.61L488.9 353.81" stroke="#0072BD" stroke-width="1.5" fill="none"/>
<path d="M487 355.86L491.8 360.66M487 360.66L491.8 355.86" stroke="#0072BD" stroke-width="1.5" fill="none"/>
<path d="M489.77 357.82L494.57 362.62M489.77 362.62L494.57 357.82" stroke="#0072BD" stroke-width="1.5" fill="none"/>
<path d="M492.42 359.7L497.22 364.5M492.42 364.5L497.22 359.7" stroke="#0072BD" stroke-width="1.5" fill="none"/>
<path d="M494.95 361.49L499.75 366.29M494.95 366.29L499.75 361.49" stroke="#0072BD" stroke-width="1.5" fill="none"/>
<path d="M497.38 363.21L502.18 368.01M497.38 368.01L502.18 363.21" stroke="#0072BD" stroke-width="1.5" fill="none"/>
<path d="M499.71 364.86L504.51 369.66M499.71 369.66L504.51 364.86" stroke="#0072BD" stroke-width="1.5" fill="none"/>
<path d="M501.96 366.45L506.76 371.25M501.96 371.25L506.76 366.45" stroke="#0072BD" stroke-width="1.5" fill="none"/>
<path d="M504.12 367.98L508.92 372.78M504.12 372.78L508.92 367.98" stroke="#0072BD" stroke-width="1.5" fill="none"/>
<path d="M506.21 369.46L511.01 374.26M506.21 374.26L511.01 369.46" stroke="#0072BD" stroke-width="1.5" fill="none"/>
<path d="M508.22 370.89L513.02 375.69M508.22 375.69L513.02 370.89" stroke="#0072BD" stroke-width="1.5" fill="none"/>
<path d="M69.5 471.5v-2.5M69.5 286.5v2.5M75.5 471.5v-4.5M75.5 286.5v4.5M116.5 471.5v-2.5M116.5 286.5v2.5M140.5 471.5v-2.5M140.5 286.5v2.5M157.5 471.5v-2.5M157.5 286.5v2.5M171.5 471.5v-2.5M171.5 286.5v2.5M182.5 471.5v-2.5M182.5 286.5v2.5M191.5 471.5v-2.5M191.5 286.5v2.5M199.5 471.5v-2.5M199.5 286.5v2.5M206.5 471.5v-2.5M206.5 286.5v2.5M212.5 471.5v-4.5M212.5 286.5v4.5M253.5 471.5v-2.5M253.5 286.5v2.5M277.5 471.5v-2.5M277.5 286.5v2.5M294.5 471.5v-2.5M294.5 286.5v2.5M308.5 471.5v-2.5M308.5 286.5v2.5M319.5 471.5v-2.5M319.5 286.5v2.5M328.5 471.5v-2.5M328.5 286.5v2.5M336.5 471.5v-2.5M336.5 286.5v2.5M343.5 471.5v-2.5M343.5 286.5v2.5M349.5 471.5v-4.5M349.5 286.5v4.5M390.5 471.5v-2.5M390.5 286.5v2.5M414.5 471.5v-2.5M414.5 286.5v2.5M431.5 471.5v-2.5M431.5 286.5v2.5M445.5 471.5v-2.5M445.5 286.5v2.5M456.5 471.5v-2.5M456.5 286.5v2.5M465.5 471.5v-2.5M465.5 286.5v2.5M473.5 471.5v-2.5M473.5 286.5v2.5M480.5 471.5v-2.5M480.5 286.5v2.5M486.5 471.5v-4.5M486.5 286.5v4.5M62.5 462.5h4.5M510.5 462.5h-4.5M62.5 420.5h4.5M510.5 420.5h-4.5M62.5 378.5h4.5M510.5 378.5h-4.5M62.5 336.5h4.5M510.5 336.5h-4.5M62.5 295.5h4.5M510.5 295.5h-4.5" stroke="#606060" stroke-width="1" fill="none"/>
<rect x="62.5" y="286.5" width="448.0" height="185.0" fill="none" stroke="#606060" stroke-width="1"/>
<text x="57.5" y="466.1" font-size="13.5" text-anchor="end" fill="#262626" stroke="#262626" stroke-width="0.2" >-1</text>
<text x="57.5" y="424.35" font-size="13.5" text-anchor="end" fill="#262626" stroke="#262626" stroke-width="0.2" >-0.5</text>
<text x="57.5" y="382.6" font-size="13.5" text-anchor="end" fill="#262626" stroke="#262626" stroke-width="0.2" >0</text>
<text x="57.5" y="340.85" font-size="13.5" text-anchor="end" fill="#262626" stroke="#262626" stroke-width="0.2" >0.5</text>
<text x="57.5" y="299.1" font-size="13.5" text-anchor="end" fill="#262626" stroke="#262626" stroke-width="0.2" >1</text>
<text x="65.75" y="486" font-size="12.5" text-anchor="start" fill="#262626" stroke="#262626" stroke-width="0.2" >10</text>
<text x="79.65" y="481" font-size="7" text-anchor="start" fill="#262626" stroke="#262626" stroke-width="0.2" >-2</text>
<text x="202.75" y="486" font-size="12.5" text-anchor="start" fill="#262626" stroke="#262626" stroke-width="0.2" >10</text>
<text x="216.65" y="481" font-size="7" text-anchor="start" fill="#262626" stroke="#262626" stroke-width="0.2" >-1</text>
<text x="340.75" y="486" font-size="12.5" text-anchor="start" fill="#262626" stroke="#262626" stroke-width="0.2" >10</text>
<text x="354.65" y="481" font-size="7" text-anchor="start" fill="#262626" stroke="#262626" stroke-width="0.2" >0</text>
<text x="477.75" y="486" font-size="12.5" text-anchor="start" fill="#262626" stroke="#262626" stroke-width="0.2" >10</text>
<text x="491.65" y="481" font-size="7" text-anchor="start" fill="#262626" stroke="#262626" stroke-width="0.2" >1</text>
<text x="286.7" y="502" font-size="14" text-anchor="middle" fill="#262626" stroke="#262626" stroke-width="0.2" >T (K)</text>
<text x="286.7" y="278.3" font-size="13.5" text-anchor="middle" fill="#262626" stroke="#262626" stroke-width="0.2"><tspan font-style="italic">B</tspan> = 0 T</text>
<text x="1" y="281.7" font-size="15.5" text-anchor="start" fill="#1a1a1a"  letter-spacing="0.6" stroke="#1a1a1a" stroke-width="0.12">(b)</text>
<text transform="translate(19,378.6) rotate(-90)" font-size="15" text-anchor="middle" fill="#262626" stroke="#262626" stroke-width="0.2" xml:space="preserve"><tspan>R</tspan><tspan font-size="10" font-style="italic" dy="3.5">yx</tspan><tspan dy="-3.5">  (</tspan><tspan font-style="italic">h</tspan>/e<tspan font-size="9" dy="-3.4">2</tspan><tspan dy="3.4">)</tspan></text>
<rect x="95.5" y="330.5" width="86" height="46.5" fill="#fff" stroke="#8a8a8a" stroke-width="1"/>
<path d="M99.8 335.9L105 341.1M99.8 341.1L105 335.9" stroke="#FF00FF" stroke-width="1.6" fill="none"/>
<circle cx="110.7" cy="338.5" r="3.2" stroke="#FF00FF" stroke-width="1.6" fill="none"/>
<text x="118.6" y="342.1" font-size="10.3" text-anchor="start" fill="#262626" stroke="#262626" stroke-width="0.2" >V</text>
<text x="125.8" y="345.5" font-size="7.4" text-anchor="start" fill="#262626" stroke="#262626" stroke-width="0.2" >Gate</text>
<text x="142" y="342.1" font-size="9.9" text-anchor="start" fill="#262626" stroke="#262626" stroke-width="0.2" >= –8 V</text>
<path d="M99.8 351.1L105 356.3M99.8 356.3L105 351.1" stroke="#0072BD" stroke-width="1.6" fill="none"/>
<circle cx="110.7" cy="353.7" r="3.2" stroke="#0072BD" stroke-width="1.6" fill="none"/>
<text x="118.6" y="357.3" font-size="10.3" text-anchor="start" fill="#262626" stroke="#262626" stroke-width="0.2" >V</text>
<text x="125.8" y="360.7" font-size="7.4" text-anchor="start" fill="#262626" stroke="#262626" stroke-width="0.2" >Gate</text>
<text x="142" y="357.3" font-size="9.9" text-anchor="start" fill="#262626" stroke="#262626" stroke-width="0.2" >= –1.9 V</text>
<path d="M99.8 366.3L105 371.5M99.8 371.5L105 366.3" stroke="#EDB120" stroke-width="1.6" fill="none"/>
<circle cx="110.7" cy="368.9" r="3.2" stroke="#EDB120" stroke-width="1.6" fill="none"/>
<text x="118.6" y="372.5" font-size="10.3" text-anchor="start" fill="#262626" stroke="#262626" stroke-width="0.2" >V</text>
<text x="125.8" y="375.9" font-size="7.4" text-anchor="start" fill="#262626" stroke="#262626" stroke-width="0.2" >Gate</text>
<text x="142" y="372.5" font-size="9.9" text-anchor="start" fill="#262626" stroke="#262626" stroke-width="0.2" >= –0.3 V</text>
<rect x="103.5" y="396.5" width="71" height="26" fill="#fff" stroke="#8a8a8a" stroke-width="1"/>
<circle cx="110.7" cy="403.5" r="3.2" stroke="#808080" stroke-width="1.4" fill="none"/>
<text x="119.2" y="407.3" font-size="10.3" text-anchor="start" fill="#262626" stroke="#262626" stroke-width="0.2" >–5 T to 5 T</text>
<path d="M108.2 414L113.2 419M108.2 419L113.2 414" stroke="#808080" stroke-width="1.4" fill="none"/>
<text x="119.2" y="420.3" font-size="10.3" text-anchor="start" fill="#262626" stroke="#262626" stroke-width="0.2" >5 T to –5 T</text>
<line x1="69.5" y1="553.5" x2="69.5" y2="738.5" stroke="#e8e8e8" stroke-width="1" stroke-dasharray="1 2"/>
<line x1="75.5" y1="553.5" x2="75.5" y2="738.5" stroke="#e8e8e8" stroke-width="1"/>
<line x1="116.5" y1="553.5" x2="116.5" y2="738.5" stroke="#e8e8e8" stroke-width="1" stroke-dasharray="1 2"/>
<line x1="140.5" y1="553.5" x2="140.5" y2="738.5" stroke="#e8e8e8" stroke-width="1" stroke-dasharray="1 2"/>
<line x1="157.5" y1="553.5" x2="157.5" y2="738.5" stroke="#e8e8e8" stroke-width="1" stroke-dasharray="1 2"/>
<line x1="171.5" y1="553.5" x2="171.5" y2="738.5" stroke="#e8e8e8" stroke-width="1" stroke-dasharray="1 2"/>
<line x1="182.5" y1="553.5" x2="182.5" y2="738.5" stroke="#e8e8e8" stroke-width="1" stroke-dasharray="1 2"/>
<line x1="191.5" y1="553.5" x2="191.5" y2="738.5" stroke="#e8e8e8" stroke-width="1" stroke-dasharray="1 2"/>
<line x1="199.5" y1="553.5" x2="199.5" y2="738.5" stroke="#e8e8e8" stroke-width="1" stroke-dasharray="1 2"/>
<line x1="206.5" y1="553.5" x2="206.5" y2="738.5" stroke="#e8e8e8" stroke-width="1" stroke-dasharray="1 2"/>
<line x1="212.5" y1="553.5" x2="212.5" y2="738.5" stroke="#e8e8e8" stroke-width="1"/>
<line x1="253.5" y1="553.5" x2="253.5" y2="738.5" stroke="#e8e8e8" stroke-width="1" stroke-dasharray="1 2"/>
<line x1="277.5" y1="553.5" x2="277.5" y2="738.5" stroke="#e8e8e8" stroke-width="1" stroke-dasharray="1 2"/>
<line x1="294.5" y1="553.5" x2="294.5" y2="738.5" stroke="#e8e8e8" stroke-width="1" stroke-dasharray="1 2"/>
<line x1="308.5" y1="553.5" x2="308.5" y2="738.5" stroke="#e8e8e8" stroke-width="1" stroke-dasharray="1 2"/>
<line x1="319.5" y1="553.5" x2="319.5" y2="738.5" stroke="#e8e8e8" stroke-width="1" stroke-dasharray="1 2"/>
<line x1="328.5" y1="553.5" x2="328.5" y2="738.5" stroke="#e8e8e8" stroke-width="1" stroke-dasharray="1 2"/>
<line x1="336.5" y1="553.5" x2="336.5" y2="738.5" stroke="#e8e8e8" stroke-width="1" stroke-dasharray="1 2"/>
<line x1="343.5" y1="553.5" x2="343.5" y2="738.5" stroke="#e8e8e8" stroke-width="1" stroke-dasharray="1 2"/>
<line x1="349.5" y1="553.5" x2="349.5" y2="738.5" stroke="#e8e8e8" stroke-width="1"/>
<line x1="390.5" y1="553.5" x2="390.5" y2="738.5" stroke="#e8e8e8" stroke-width="1" stroke-dasharray="1 2"/>
<line x1="414.5" y1="553.5" x2="414.5" y2="738.5" stroke="#e8e8e8" stroke-width="1" stroke-dasharray="1 2"/>
<line x1="431.5" y1="553.5" x2="431.5" y2="738.5" stroke="#e8e8e8" stroke-width="1" stroke-dasharray="1 2"/>
<line x1="445.5" y1="553.5" x2="445.5" y2="738.5" stroke="#e8e8e8" stroke-width="1" stroke-dasharray="1 2"/>
<line x1="456.5" y1="553.5" x2="456.5" y2="738.5" stroke="#e8e8e8" stroke-width="1" stroke-dasharray="1 2"/>
<line x1="465.5" y1="553.5" x2="465.5" y2="738.5" stroke="#e8e8e8" stroke-width="1" stroke-dasharray="1 2"/>
<line x1="473.5" y1="553.5" x2="473.5" y2="738.5" stroke="#e8e8e8" stroke-width="1" stroke-dasharray="1 2"/>
<line x1="480.5" y1="553.5" x2="480.5" y2="738.5" stroke="#e8e8e8" stroke-width="1" stroke-dasharray="1 2"/>
<line x1="486.5" y1="553.5" x2="486.5" y2="738.5" stroke="#e8e8e8" stroke-width="1"/>
<line x1="62.5" y1="722.5" x2="510.5" y2="722.5" stroke="#e8e8e8" stroke-width="1"/>
<line x1="62.5" y1="645.5" x2="510.5" y2="645.5" stroke="#e8e8e8" stroke-width="1"/>
<line x1="62.5" y1="568.5" x2="510.5" y2="568.5" stroke="#e8e8e8" stroke-width="1"/>
<line x1="300.7" y1="738.5" x2="480.2" y2="553.5" stroke="#555" stroke-width="1"/>
<circle cx="99.62" cy="708.2" r="3.05" stroke="#FF00FF" stroke-width="1.9" fill="none"/><path d="M97.72 706.3L101.52 710.1M97.72 710.1L101.52 706.3" stroke="#FF00FF" stroke-width="1.3" fill="none"/>
<circle cx="212.5" cy="707.3" r="3.05" stroke="#FF00FF" stroke-width="1.9" fill="none"/><path d="M210.6 705.4L214.4 709.2M210.6 709.2L214.4 705.4" stroke="#FF00FF" stroke-width="1.3" fill="none"/>
<circle cx="253.74" cy="706" r="3.05" stroke="#FF00FF" stroke-width="1.9" fill="none"/><path d="M251.84 704.1L255.64 707.9M251.84 707.9L255.64 704.1" stroke="#FF00FF" stroke-width="1.3" fill="none"/>
<circle cx="277.87" cy="701.1" r="3.05" stroke="#FF00FF" stroke-width="1.9" fill="none"/><path d="M275.97 699.2L279.77 703M275.97 703L279.77 699.2" stroke="#FF00FF" stroke-width="1.3" fill="none"/>
<circle cx="294.98" cy="688.8" r="3.05" stroke="#FF00FF" stroke-width="1.9" fill="none"/><path d="M293.08 686.9L296.88 690.7M293.08 690.7L296.88 686.9" stroke="#FF00FF" stroke-width="1.3" fill="none"/>
<circle cx="308.26" cy="669.7" r="3.05" stroke="#FF00FF" stroke-width="1.9" fill="none"/><path d="M306.36 667.8L310.16 671.6M306.36 671.6L310.16 667.8" stroke="#FF00FF" stroke-width="1.3" fill="none"/>
<circle cx="319.11" cy="653.1" r="3.05" stroke="#FF00FF" stroke-width="1.9" fill="none"/><path d="M317.21 651.2L321.01 655M317.21 655L321.01 651.2" stroke="#FF00FF" stroke-width="1.3" fill="none"/>
<circle cx="328.28" cy="634.3" r="3.05" stroke="#FF00FF" stroke-width="1.9" fill="none"/><path d="M326.38 632.4L330.18 636.2M326.38 636.2L330.18 632.4" stroke="#FF00FF" stroke-width="1.3" fill="none"/>
<circle cx="336.22" cy="619.9" r="3.05" stroke="#FF00FF" stroke-width="1.9" fill="none"/><path d="M334.32 618L338.12 621.8M334.32 621.8L338.12 618" stroke="#FF00FF" stroke-width="1.3" fill="none"/>
<circle cx="390.74" cy="596.3" r="3.05" stroke="#FF00FF" stroke-width="1.9" fill="none"/><path d="M388.84 594.4L392.64 598.2M388.84 598.2L392.64 594.4" stroke="#FF00FF" stroke-width="1.3" fill="none"/>
<circle cx="414.87" cy="591.7" r="3.05" stroke="#FF00FF" stroke-width="1.9" fill="none"/><path d="M412.97 589.8L416.77 593.6M412.97 593.6L416.77 589.8" stroke="#FF00FF" stroke-width="1.3" fill="none"/>
<circle cx="431.98" cy="588.7" r="3.05" stroke="#FF00FF" stroke-width="1.9" fill="none"/><path d="M430.08 586.8L433.88 590.6M430.08 590.6L433.88 586.8" stroke="#FF00FF" stroke-width="1.3" fill="none"/>
<circle cx="445.26" cy="586.8" r="3.05" stroke="#FF00FF" stroke-width="1.9" fill="none"/><path d="M443.36 584.9L447.16 588.7M443.36 588.7L447.16 584.9" stroke="#FF00FF" stroke-width="1.3" fill="none"/>
<circle cx="465.28" cy="585.5" r="3.05" stroke="#FF00FF" stroke-width="1.9" fill="none"/><path d="M463.38 583.6L467.18 587.4M463.38 587.4L467.18 583.6" stroke="#FF00FF" stroke-width="1.3" fill="none"/>
<circle cx="473.22" cy="585.1" r="3.05" stroke="#FF00FF" stroke-width="1.9" fill="none"/><path d="M471.32 583.2L475.12 587M471.32 587L475.12 583.2" stroke="#FF00FF" stroke-width="1.3" fill="none"/>
<circle cx="480.23" cy="585.8" r="3.05" stroke="#FF00FF" stroke-width="1.9" fill="none"/><path d="M478.33 583.9L482.13 587.7M478.33 587.7L482.13 583.9" stroke="#FF00FF" stroke-width="1.3" fill="none"/>
<circle cx="486.5" cy="586.3" r="3.05" stroke="#FF00FF" stroke-width="1.9" fill="none"/><path d="M484.6 584.4L488.4 588.2M484.6 588.2L488.4 584.4" stroke="#FF00FF" stroke-width="1.3" fill="none"/>
<circle cx="497.35" cy="587.7" r="3.05" stroke="#FF00FF" stroke-width="1.9" fill="none"/><path d="M495.45 585.8L499.25 589.6M495.45 589.6L499.25 585.8" stroke="#FF00FF" stroke-width="1.3" fill="none"/>
<circle cx="510.62" cy="589.9" r="3.05" stroke="#FF00FF" stroke-width="1.9" fill="none"/><path d="M508.72 588L512.52 591.8M508.72 591.8L512.52 588" stroke="#FF00FF" stroke-width="1.3" fill="none"/>
<circle cx="294.98" cy="721.5" r="3.05" stroke="#EDB120" stroke-width="1.9" fill="none"/><path d="M293.08 719.6L296.88 723.4M293.08 723.4L296.88 719.6" stroke="#EDB120" stroke-width="1.3" fill="none"/>
<circle cx="308.26" cy="715.9" r="3.05" stroke="#EDB120" stroke-width="1.9" fill="none"/><path d="M306.36 714L310.16 717.8M306.36 717.8L310.16 714" stroke="#EDB120" stroke-width="1.3" fill="none"/>
<circle cx="319.11" cy="707.5" r="3.05" stroke="#EDB120" stroke-width="1.9" fill="none"/><path d="M317.21 705.6L321.01 709.4M317.21 709.4L321.01 705.6" stroke="#EDB120" stroke-width="1.3" fill="none"/>
<circle cx="328.28" cy="692.5" r="3.05" stroke="#EDB120" stroke-width="1.9" fill="none"/><path d="M326.38 690.6L330.18 694.4M326.38 694.4L330.18 690.6" stroke="#EDB120" stroke-width="1.3" fill="none"/>
<circle cx="336.22" cy="680.8" r="3.05" stroke="#EDB120" stroke-width="1.9" fill="none"/><path d="M334.32 678.9L338.12 682.7M334.32 682.7L338.12 678.9" stroke="#EDB120" stroke-width="1.3" fill="none"/>
<circle cx="390.74" cy="629.2" r="3.05" stroke="#EDB120" stroke-width="1.9" fill="none"/><path d="M388.84 627.3L392.64 631.1M388.84 631.1L392.64 627.3" stroke="#EDB120" stroke-width="1.3" fill="none"/>
<circle cx="414.87" cy="612.5" r="3.05" stroke="#EDB120" stroke-width="1.9" fill="none"/><path d="M412.97 610.6L416.77 614.4M412.97 614.4L416.77 610.6" stroke="#EDB120" stroke-width="1.3" fill="none"/>
<circle cx="431.98" cy="602.5" r="3.05" stroke="#EDB120" stroke-width="1.9" fill="none"/><path d="M430.08 600.6L433.88 604.4M430.08 604.4L433.88 600.6" stroke="#EDB120" stroke-width="1.3" fill="none"/>
<circle cx="445.26" cy="594.5" r="3.05" stroke="#EDB120" stroke-width="1.9" fill="none"/><path d="M443.36 592.6L447.16 596.4M443.36 596.4L447.16 592.6" stroke="#EDB120" stroke-width="1.3" fill="none"/>
<circle cx="456.11" cy="592" r="3.05" stroke="#EDB120" stroke-width="1.9" fill="none"/><path d="M454.21 590.1L458.01 593.9M454.21 593.9L458.01 590.1" stroke="#EDB120" stroke-width="1.3" fill="none"/>
<circle cx="465.28" cy="587.2" r="3.05" stroke="#EDB120" stroke-width="1.9" fill="none"/><path d="M463.38 585.3L467.18 589.1M463.38 589.1L467.18 585.3" stroke="#EDB120" stroke-width="1.3" fill="none"/>
<circle cx="473.22" cy="585.1" r="3.05" stroke="#EDB120" stroke-width="1.9" fill="none"/><path d="M471.32 583.2L475.12 587M471.32 587L475.12 583.2" stroke="#EDB120" stroke-width="1.3" fill="none"/>
<circle cx="480.23" cy="583.7" r="3.05" stroke="#EDB120" stroke-width="1.9" fill="none"/><path d="M478.33 581.8L482.13 585.6M478.33 585.6L482.13 581.8" stroke="#EDB120" stroke-width="1.3" fill="none"/>
<circle cx="486.5" cy="582.5" r="3.05" stroke="#EDB120" stroke-width="1.9" fill="none"/><path d="M484.6 580.6L488.4 584.4M484.6 584.4L488.4 580.6" stroke="#EDB120" stroke-width="1.3" fill="none"/>
<circle cx="497.35" cy="582.5" r="3.05" stroke="#EDB120" stroke-width="1.9" fill="none"/><path d="M495.45 580.6L499.25 584.4M495.45 584.4L499.25 580.6" stroke="#EDB120" stroke-width="1.3" fill="none"/>
<circle cx="510.62" cy="585.1" r="3.05" stroke="#EDB120" stroke-width="1.9" fill="none"/><path d="M508.72 583.2L512.52 587M508.72 587L512.52 583.2" stroke="#EDB120" stroke-width="1.3" fill="none"/>
<circle cx="69.23" cy="722.9" r="3.05" stroke="#0072BD" stroke-width="1.9" fill="none"/><path d="M67.33 721L71.13 724.8M67.33 724.8L71.13 721" stroke="#0072BD" stroke-width="1.3" fill="none"/>
<circle cx="212.5" cy="723" r="3.05" stroke="#0072BD" stroke-width="1.9" fill="none"/><path d="M210.6 721.1L214.4 724.9M210.6 724.9L214.4 721.1" stroke="#0072BD" stroke-width="1.3" fill="none"/>
<circle cx="253.74" cy="723" r="3.05" stroke="#0072BD" stroke-width="1.9" fill="none"/><path d="M251.84 721.1L255.64 724.9M251.84 724.9L255.64 721.1" stroke="#0072BD" stroke-width="1.3" fill="none"/>
<circle cx="277.87" cy="723" r="3.05" stroke="#0072BD" stroke-width="1.9" fill="none"/><path d="M275.97 721.1L279.77 724.9M275.97 724.9L279.77 721.1" stroke="#0072BD" stroke-width="1.3" fill="none"/>
<circle cx="294.98" cy="722.7" r="3.05" stroke="#0072BD" stroke-width="1.9" fill="none"/><path d="M293.08 720.8L296.88 724.6M293.08 724.6L296.88 720.8" stroke="#0072BD" stroke-width="1.3" fill="none"/>
<circle cx="308.26" cy="721.5" r="3.05" stroke="#0072BD" stroke-width="1.9" fill="none"/><path d="M306.36 719.6L310.16 723.4M306.36 723.4L310.16 719.6" stroke="#0072BD" stroke-width="1.3" fill="none"/>
<circle cx="319.11" cy="717.5" r="3.05" stroke="#0072BD" stroke-width="1.9" fill="none"/><path d="M317.21 715.6L321.01 719.4M317.21 719.4L321.01 715.6" stroke="#0072BD" stroke-width="1.3" fill="none"/>
<circle cx="328.28" cy="709.7" r="3.05" stroke="#0072BD" stroke-width="1.9" fill="none"/><path d="M326.38 707.8L330.18 711.6M326.38 711.6L330.18 707.8" stroke="#0072BD" stroke-width="1.3" fill="none"/>
<circle cx="336.22" cy="696.2" r="3.05" stroke="#0072BD" stroke-width="1.9" fill="none"/><path d="M334.32 694.3L338.12 698.1M334.32 698.1L338.12 694.3" stroke="#0072BD" stroke-width="1.3" fill="none"/>
<circle cx="381.07" cy="656.9" r="3.05" stroke="#0072BD" stroke-width="1.9" fill="none"/><path d="M379.17 655L382.97 658.8M379.17 658.8L382.97 655" stroke="#0072BD" stroke-width="1.3" fill="none"/>
<circle cx="390.74" cy="645.5" r="3.05" stroke="#0072BD" stroke-width="1.9" fill="none"/><path d="M388.84 643.6L392.64 647.4M388.84 647.4L392.64 643.6" stroke="#0072BD" stroke-width="1.3" fill="none"/>
<circle cx="404.02" cy="633.2" r="3.05" stroke="#0072BD" stroke-width="1.9" fill="none"/><path d="M402.12 631.3L405.92 635.1M402.12 635.1L405.92 631.3" stroke="#0072BD" stroke-width="1.3" fill="none"/>
<circle cx="414.87" cy="622.4" r="3.05" stroke="#0072BD" stroke-width="1.9" fill="none"/><path d="M412.97 620.5L416.77 624.3M412.97 624.3L416.77 620.5" stroke="#0072BD" stroke-width="1.3" fill="none"/>
<circle cx="424.04" cy="614.7" r="3.05" stroke="#0072BD" stroke-width="1.9" fill="none"/><path d="M422.14 612.8L425.94 616.6M422.14 616.6L425.94 612.8" stroke="#0072BD" stroke-width="1.3" fill="none"/>
<circle cx="431.98" cy="607.5" r="3.05" stroke="#0072BD" stroke-width="1.9" fill="none"/><path d="M430.08 605.6L433.88 609.4M430.08 609.4L433.88 605.6" stroke="#0072BD" stroke-width="1.3" fill="none"/>
<circle cx="438.99" cy="601" r="3.05" stroke="#0072BD" stroke-width="1.9" fill="none"/><path d="M437.09 599.1L440.89 602.9M437.09 602.9L440.89 599.1" stroke="#0072BD" stroke-width="1.3" fill="none"/>
<circle cx="445.26" cy="595.8" r="3.05" stroke="#0072BD" stroke-width="1.9" fill="none"/><path d="M443.36 593.9L447.16 597.7M443.36 597.7L447.16 593.9" stroke="#0072BD" stroke-width="1.3" fill="none"/>
<circle cx="450.93" cy="590.8" r="3.05" stroke="#0072BD" stroke-width="1.9" fill="none"/><path d="M449.03 588.9L452.83 592.7M449.03 592.7L452.83 588.9" stroke="#0072BD" stroke-width="1.3" fill="none"/>
<circle cx="456.11" cy="586.3" r="3.05" stroke="#0072BD" stroke-width="1.9" fill="none"/><path d="M454.21 584.4L458.01 588.2M454.21 588.2L458.01 584.4" stroke="#0072BD" stroke-width="1.3" fill="none"/>
<circle cx="465.28" cy="579" r="3.05" stroke="#0072BD" stroke-width="1.9" fill="none"/><path d="M463.38 577.1L467.18 580.9M463.38 580.9L467.18 577.1" stroke="#0072BD" stroke-width="1.3" fill="none"/>
<circle cx="468.58" cy="576.54" r="3.05" stroke="#0072BD" stroke-width="1.9" fill="none"/><path d="M466.68 574.64L470.48 578.44M466.68 578.44L470.48 574.64" stroke="#0072BD" stroke-width="1.3" fill="none"/>
<circle cx="471.72" cy="574.19" r="3.05" stroke="#0072BD" stroke-width="1.9" fill="none"/><path d="M469.82 572.29L473.62 576.09M469.82 576.09L473.62 572.29" stroke="#0072BD" stroke-width="1.3" fill="none"/>
<circle cx="474.69" cy="572.39" r="3.05" stroke="#0072BD" stroke-width="1.9" fill="none"/><path d="M472.79 570.49L476.59 574.29M472.79 574.29L476.59 570.49" stroke="#0072BD" stroke-width="1.3" fill="none"/>
<circle cx="477.53" cy="571.15" r="3.05" stroke="#0072BD" stroke-width="1.9" fill="none"/><path d="M475.63 569.25L479.43 573.05M475.63 573.05L479.43 569.25" stroke="#0072BD" stroke-width="1.3" fill="none"/>
<circle cx="480.23" cy="569.97" r="3.05" stroke="#0072BD" stroke-width="1.9" fill="none"/><path d="M478.33 568.07L482.13 571.87M478.33 571.87L482.13 568.07" stroke="#0072BD" stroke-width="1.3" fill="none"/>
<circle cx="482.82" cy="568.94" r="3.05" stroke="#0072BD" stroke-width="1.9" fill="none"/><path d="M480.92 567.04L484.72 570.84M480.92 570.84L484.72 567.04" stroke="#0072BD" stroke-width="1.3" fill="none"/>
<circle cx="485.3" cy="568.15" r="3.05" stroke="#0072BD" stroke-width="1.9" fill="none"/><path d="M483.4 566.25L487.2 570.05M483.4 570.05L487.2 566.25" stroke="#0072BD" stroke-width="1.3" fill="none"/>
<circle cx="487.68" cy="567.4" r="3.05" stroke="#0072BD" stroke-width="1.9" fill="none"/><path d="M485.78 565.5L489.58 569.3M485.78 569.3L489.58 565.5" stroke="#0072BD" stroke-width="1.3" fill="none"/>
<circle cx="489.97" cy="566.67" r="3.05" stroke="#0072BD" stroke-width="1.9" fill="none"/><path d="M488.07 564.77L491.87 568.57M488.07 568.57L491.87 564.77" stroke="#0072BD" stroke-width="1.3" fill="none"/>
<circle cx="492.17" cy="566.19" r="3.05" stroke="#0072BD" stroke-width="1.9" fill="none"/><path d="M490.27 564.29L494.07 568.09M490.27 568.09L494.07 564.29" stroke="#0072BD" stroke-width="1.3" fill="none"/>
<circle cx="494.3" cy="565.8" r="3.05" stroke="#0072BD" stroke-width="1.9" fill="none"/><path d="M492.4 563.9L496.2 567.7M492.4 567.7L496.2 563.9" stroke="#0072BD" stroke-width="1.3" fill="none"/>
<circle cx="496.35" cy="565.42" r="3.05" stroke="#0072BD" stroke-width="1.9" fill="none"/><path d="M494.45 563.52L498.25 567.32M494.45 567.32L498.25 563.52" stroke="#0072BD" stroke-width="1.3" fill="none"/>
<circle cx="498.33" cy="565.06" r="3.05" stroke="#0072BD" stroke-width="1.9" fill="none"/><path d="M496.43 563.16L500.23 566.96M496.43 566.96L500.23 563.16" stroke="#0072BD" stroke-width="1.3" fill="none"/>
<circle cx="500.25" cy="564.88" r="3.05" stroke="#0072BD" stroke-width="1.9" fill="none"/><path d="M498.35 562.98L502.15 566.78M498.35 566.78L502.15 562.98" stroke="#0072BD" stroke-width="1.3" fill="none"/>
<circle cx="502.11" cy="564.85" r="3.05" stroke="#0072BD" stroke-width="1.9" fill="none"/><path d="M500.21 562.95L504.01 566.75M500.21 566.75L504.01 562.95" stroke="#0072BD" stroke-width="1.3" fill="none"/>
<circle cx="503.91" cy="564.82" r="3.05" stroke="#0072BD" stroke-width="1.9" fill="none"/><path d="M502.01 562.92L505.81 566.72M502.01 566.72L505.81 562.92" stroke="#0072BD" stroke-width="1.3" fill="none"/>
<circle cx="505.66" cy="564.91" r="3.05" stroke="#0072BD" stroke-width="1.9" fill="none"/><path d="M503.76 563.01L507.56 566.81M503.76 566.81L507.56 563.01" stroke="#0072BD" stroke-width="1.3" fill="none"/>
<circle cx="507.36" cy="565.19" r="3.05" stroke="#0072BD" stroke-width="1.9" fill="none"/><path d="M505.46 563.29L509.26 567.09M505.46 567.09L509.26 563.29" stroke="#0072BD" stroke-width="1.3" fill="none"/>
<circle cx="509.02" cy="565.71" r="3.05" stroke="#0072BD" stroke-width="1.9" fill="none"/><path d="M507.12 563.81L510.92 567.61M507.12 567.61L510.92 563.81" stroke="#0072BD" stroke-width="1.3" fill="none"/>
<circle cx="510.62" cy="566.35" r="3.05" stroke="#0072BD" stroke-width="1.9" fill="none"/><path d="M508.72 564.45L512.52 568.25M508.72 568.25L512.52 564.45" stroke="#0072BD" stroke-width="1.3" fill="none"/>
<path d="M69.5 738.5v-2.5M69.5 553.5v2.5M75.5 738.5v-4.5M75.5 553.5v4.5M116.5 738.5v-2.5M116.5 553.5v2.5M140.5 738.5v-2.5M140.5 553.5v2.5M157.5 738.5v-2.5M157.5 553.5v2.5M171.5 738.5v-2.5M171.5 553.5v2.5M182.5 738.5v-2.5M182.5 553.5v2.5M191.5 738.5v-2.5M191.5 553.5v2.5M199.5 738.5v-2.5M199.5 553.5v2.5M206.5 738.5v-2.5M206.5 553.5v2.5M212.5 738.5v-4.5M212.5 553.5v4.5M253.5 738.5v-2.5M253.5 553.5v2.5M277.5 738.5v-2.5M277.5 553.5v2.5M294.5 738.5v-2.5M294.5 553.5v2.5M308.5 738.5v-2.5M308.5 553.5v2.5M319.5 738.5v-2.5M319.5 553.5v2.5M328.5 738.5v-2.5M328.5 553.5v2.5M336.5 738.5v-2.5M336.5 553.5v2.5M343.5 738.5v-2.5M343.5 553.5v2.5M349.5 738.5v-4.5M349.5 553.5v4.5M390.5 738.5v-2.5M390.5 553.5v2.5M414.5 738.5v-2.5M414.5 553.5v2.5M431.5 738.5v-2.5M431.5 553.5v2.5M445.5 738.5v-2.5M445.5 553.5v2.5M456.5 738.5v-2.5M456.5 553.5v2.5M465.5 738.5v-2.5M465.5 553.5v2.5M473.5 738.5v-2.5M473.5 553.5v2.5M480.5 738.5v-2.5M480.5 553.5v2.5M486.5 738.5v-4.5M486.5 553.5v4.5M62.5 722.5h4.5M510.5 722.5h-4.5M62.5 645.5h4.5M510.5 645.5h-4.5M62.5 568.5h4.5M510.5 568.5h-4.5" stroke="#606060" stroke-width="1" fill="none"/>
<rect x="62.5" y="553.5" width="448.0" height="185.0" fill="none" stroke="#606060" stroke-width="1"/>
<text x="57.5" y="726.6" font-size="13.5" text-anchor="end" fill="#262626" stroke="#262626" stroke-width="0.2" >0</text>
<text x="57.5" y="649.6" font-size="13.5" text-anchor="end" fill="#262626" stroke="#262626" stroke-width="0.2" >0.5</text>
<text x="57.5" y="572.6" font-size="13.5" text-anchor="end" fill="#262626" stroke="#262626" stroke-width="0.2" >1</text>
<text x="65.75" y="753" font-size="12.5" text-anchor="start" fill="#262626" stroke="#262626" stroke-width="0.2" >10</text>
<text x="79.65" y="748" font-size="7" text-anchor="start" fill="#262626" stroke="#262626" stroke-width="0.2" >-2</text>
<text x="202.75" y="753" font-size="12.5" text-anchor="start" fill="#262626" stroke="#262626" stroke-width="0.2" >10</text>
<text x="216.65" y="748" font-size="7" text-anchor="start" fill="#262626" stroke="#262626" stroke-width="0.2" >-1</text>
<text x="340.75" y="753" font-size="12.5" text-anchor="start" fill="#262626" stroke="#262626" stroke-width="0.2" >10</text>
<text x="354.65" y="748" font-size="7" text-anchor="start" fill="#262626" stroke="#262626" stroke-width="0.2" >0</text>
<text x="477.75" y="753" font-size="12.5" text-anchor="start" fill="#262626" stroke="#262626" stroke-width="0.2" >10</text>
<text x="491.65" y="748" font-size="7" text-anchor="start" fill="#262626" stroke="#262626" stroke-width="0.2" >1</text>
<text x="286.7" y="769" font-size="14" text-anchor="middle" fill="#262626" stroke="#262626" stroke-width="0.2" >T (K)</text>
<text x="286.7" y="545.2" font-size="13.5" text-anchor="middle" fill="#262626" stroke="#262626" stroke-width="0.2"><tspan font-style="italic">B</tspan> = 0 T</text>
<text x="1" y="548.6" font-size="15.5" text-anchor="start" fill="#1a1a1a"  letter-spacing="0.6" stroke="#1a1a1a" stroke-width="0.12">(c)</text>
<text transform="translate(19,645.6) rotate(-90)" font-size="15" text-anchor="middle" fill="#262626" stroke="#262626" stroke-width="0.2" xml:space="preserve"><tspan>R</tspan><tspan font-size="10" font-style="italic" dy="3.5">xx</tspan><tspan dy="-3.5">  (</tspan><tspan font-style="italic">h</tspan>/e<tspan font-size="9" dy="-3.4">2</tspan><tspan dy="3.4">)</tspan></text>
<rect x="95.5" y="597" width="86" height="47" fill="#fff" stroke="#8a8a8a" stroke-width="1"/>
<path d="M99.8 603.1L105 608.3M99.8 608.3L105 603.1" stroke="#FF00FF" stroke-width="1.6" fill="none"/>
<circle cx="110.7" cy="605.7" r="3.2" stroke="#FF00FF" stroke-width="1.6" fill="none"/>
<text x="118.6" y="609.3" font-size="10.3" text-anchor="start" fill="#262626" stroke="#262626" stroke-width="0.2" >V</text>
<text x="125.8" y="612.7" font-size="7.4" text-anchor="start" fill="#262626" stroke="#262626" stroke-width="0.2" >Gate</text>
<text x="142" y="609.3" font-size="9.9" text-anchor="start" fill="#262626" stroke="#262626" stroke-width="0.2" >= –8 V</text>
<path d="M99.8 617.5L105 622.7M99.8 622.7L105 617.5" stroke="#0072BD" stroke-width="1.6" fill="none"/>
<circle cx="110.7" cy="620.1" r="3.2" stroke="#0072BD" stroke-width="1.6" fill="none"/>
<text x="118.6" y="623.7" font-size="10.3" text-anchor="start" fill="#262626" stroke="#262626" stroke-width="0.2" >V</text>
<text x="125.8" y="627.1" font-size="7.4" text-anchor="start" fill="#262626" stroke="#262626" stroke-width="0.2" >Gate</text>
<text x="142" y="623.7" font-size="9.9" text-anchor="start" fill="#262626" stroke="#262626" stroke-width="0.2" >= –1.9 V</text>
<path d="M99.8 631.9L105 637.1M99.8 637.1L105 631.9" stroke="#EDB120" stroke-width="1.6" fill="none"/>
<circle cx="110.7" cy="634.5" r="3.2" stroke="#EDB120" stroke-width="1.6" fill="none"/>
<text x="118.6" y="638.1" font-size="10.3" text-anchor="start" fill="#262626" stroke="#262626" stroke-width="0.2" >V</text>
<text x="125.8" y="641.5" font-size="7.4" text-anchor="start" fill="#262626" stroke="#262626" stroke-width="0.2" >Gate</text>
<text x="142" y="638.1" font-size="9.9" text-anchor="start" fill="#262626" stroke="#262626" stroke-width="0.2" >= –0.3 V</text>
<rect x="103.5" y="663.5" width="71" height="26" fill="#fff" stroke="#8a8a8a" stroke-width="1"/>
<circle cx="110.7" cy="670.8" r="3.2" stroke="#808080" stroke-width="1.4" fill="none"/>
<text x="119.2" y="674.6" font-size="10.3" text-anchor="start" fill="#262626" stroke="#262626" stroke-width="0.2" >–5 T to 5 T</text>
<path d="M108.2 681L113.2 686M108.2 686L113.2 681" stroke="#808080" stroke-width="1.4" fill="none"/>
<text x="119.2" y="687.3" font-size="10.3" text-anchor="start" fill="#262626" stroke="#262626" stroke-width="0.2" >5 T to –5 T</text>
<line x1="151.5" y1="819.5" x2="151.5" y2="1004.5" stroke="#e8e8e8" stroke-width="1"/>
<line x1="241.5" y1="819.5" x2="241.5" y2="1004.5" stroke="#e8e8e8" stroke-width="1"/>
<line x1="331.5" y1="819.5" x2="331.5" y2="1004.5" stroke="#e8e8e8" stroke-width="1"/>
<line x1="421.5" y1="819.5" x2="421.5" y2="1004.5" stroke="#e8e8e8" stroke-width="1"/>
<line x1="62.5" y1="943.5" x2="510.5" y2="943.5" stroke="#e8e8e8" stroke-width="1"/>
<line x1="62.5" y1="881.5" x2="510.5" y2="881.5" stroke="#e8e8e8" stroke-width="1"/>
<path d="M76.82 981.53L79.06 973.83L81.31 966.28L83.55 959.07L85.8 952.29L88.04 945.95L90.29 940.07L92.53 934.61L94.78 929.56L97.02 924.87L99.27 920.53L101.51 916.51L103.76 912.76L106 909.28L108.25 906.03L110.49 902.99L112.74 900.16L114.98 897.5L117.23 895L119.47 892.65L121.72 890.44L123.96 888.36L126.21 886.39L128.45 884.53L130.7 882.77L132.94 881.1L135.19 879.52L137.43 878.02L139.68 876.58L141.92 875.22L144.17 873.92L146.41 872.68L148.66 871.49L150.9 870.36L153.15 869.27L162.13 865.36L171.11 862.03L180.09 859.16L189.07 856.66L198.05 854.46L207.03 852.52L216.01 850.79L224.99 849.24L233.97 847.85L242.95 846.58L251.93 845.44L260.91 844.39L269.89 843.42L278.87 842.54L287.85 841.72L296.83 840.97L305.81 840.27L314.79 839.61L323.77 839L332.75 838.44L341.73 837.9L350.71 837.4L359.69 836.93L368.67 836.49L377.65 836.07L386.63 835.67L395.61 835.3L404.59 834.94L413.57 834.61L422.55 834.29L431.53 833.98L440.51 833.69L449.49 833.41L458.47 833.15L467.45 832.9L476.43 832.65L485.41 832.42L494.39 832.2L503.37 831.99" stroke="#9a9a9a" stroke-width="1.3" fill="none" stroke-dasharray="4.5 3"/>
<path d="M82.2 996.53L84.45 993.44L86.69 990.06L88.94 986.47L91.19 982.76L93.43 978.99L95.68 975.2L97.92 971.44L100.17 967.73L102.41 964.1L104.66 960.55L106.9 957.1L109.15 953.75L111.39 950.5L113.64 947.36L115.88 944.33L118.13 941.4L120.37 938.58L122.62 935.86L124.86 933.23L127.11 930.7L129.35 928.26L131.6 925.9L133.84 923.63L136.09 921.44L138.33 919.33L140.58 917.29L142.82 915.32L145.07 913.42L147.31 911.59L149.56 909.81L151.8 908.1L160.78 901.77L169.76 896.2L178.74 891.27L187.72 886.88L196.7 882.95L205.68 879.41L214.66 876.21L223.64 873.3L232.62 870.64L241.6 868.21L250.58 865.98L259.56 863.93L268.54 862.02L277.52 860.26L286.5 858.62L295.48 857.1L304.46 855.67L313.44 854.33L322.42 853.08L331.4 851.91L340.38 850.8L349.36 849.75L358.34 848.77L367.32 847.83L376.3 846.95L385.28 846.11L394.26 845.32L403.24 844.56L412.22 843.84L421.2 843.15L430.18 842.49L439.16 841.87L448.14 841.27L457.12 840.69L466.1 840.14L475.08 839.62L484.06 839.11L493.04 838.62L502.02 838.16L511 837.71" stroke="#9a9a9a" stroke-width="1.3" fill="none" stroke-dasharray="4.5 3"/>
<path d="M84.45 997.65L86.69 995.22L88.94 992.54L91.19 989.7L93.43 986.74L95.68 983.71L97.92 980.65L100.17 977.58L102.41 974.53L104.66 971.52L106.9 968.56L109.15 965.66L111.39 962.82L113.64 960.05L115.88 957.36L118.13 954.75L120.37 952.21L122.62 949.75L124.86 947.36L127.11 945.05L129.35 942.82L131.6 940.65L133.84 938.55L136.09 936.52L138.33 934.55L140.58 932.65L142.82 930.81L145.07 929.02L147.31 927.29L149.56 925.62L151.8 923.99L160.78 917.98L169.76 912.65L178.74 907.89L187.72 903.64L196.7 899.81L205.68 896.35L214.66 893.21L223.64 890.35L232.62 887.73L241.6 885.33L250.58 883.12L259.56 881.08L268.54 879.19L277.52 877.44L286.5 875.81L295.48 874.28L304.46 872.86L313.44 871.52L322.42 870.27L331.4 869.09L340.38 867.98L349.36 866.93L358.34 865.94L367.32 865.01L376.3 864.12L385.28 863.27L394.26 862.47L403.24 861.71L412.22 860.98L421.2 860.29L430.18 859.63L439.16 858.99L448.14 858.39L457.12 857.81L466.1 857.25L475.08 856.72L484.06 856.21L493.04 855.72L502.02 855.25L511 854.79" stroke="#9a9a9a" stroke-width="1.3" fill="none" stroke-dasharray="4.5 3"/>
<ellipse cx="64.5" cy="986.2" rx="4.1" ry="3.5" stroke="#FF00FF" stroke-width="2.1" fill="none"/><path d="M62.6 984.6L66.4 988.4M62.6 988.4L66.4 984.6" stroke="#FF00FF" stroke-width="1.35" fill="none"/>
<ellipse cx="66.7" cy="985.76" rx="4.1" ry="3.5" stroke="#FF00FF" stroke-width="2.1" fill="none"/><path d="M64.8 984.16L68.6 987.96M64.8 987.96L68.6 984.16" stroke="#FF00FF" stroke-width="1.35" fill="none"/>
<ellipse cx="68.9" cy="985.32" rx="4.1" ry="3.5" stroke="#FF00FF" stroke-width="2.1" fill="none"/><path d="M67 983.72L70.8 987.52M67 987.52L70.8 983.72" stroke="#FF00FF" stroke-width="1.35" fill="none"/>
<ellipse cx="71.1" cy="984.88" rx="4.1" ry="3.5" stroke="#FF00FF" stroke-width="2.1" fill="none"/><path d="M69.2 983.28L73 987.08M69.2 987.08L73 983.28" stroke="#FF00FF" stroke-width="1.35" fill="none"/>
<ellipse cx="73.3" cy="984.44" rx="4.1" ry="3.5" stroke="#FF00FF" stroke-width="2.1" fill="none"/><path d="M71.4 982.84L75.2 986.64M71.4 986.64L75.2 982.84" stroke="#FF00FF" stroke-width="1.35" fill="none"/>
<ellipse cx="75.5" cy="982.5" rx="4.1" ry="3.5" stroke="#FF00FF" stroke-width="2.1" fill="none"/><path d="M73.6 980.9L77.4 984.7M73.6 984.7L77.4 980.9" stroke="#FF00FF" stroke-width="1.35" fill="none"/>
<ellipse cx="78.2" cy="979.3" rx="4.1" ry="3.5" stroke="#FF00FF" stroke-width="2.1" fill="none"/><path d="M76.3 977.7L80.1 981.5M76.3 981.5L80.1 977.7" stroke="#FF00FF" stroke-width="1.35" fill="none"/>
<ellipse cx="82.2" cy="966.3" rx="4.1" ry="3.5" stroke="#FF00FF" stroke-width="2.1" fill="none"/><path d="M80.3 964.7L84.1 968.5M80.3 968.5L84.1 964.7" stroke="#FF00FF" stroke-width="1.35" fill="none"/>
<ellipse cx="86.6" cy="946.4" rx="4.1" ry="3.5" stroke="#FF00FF" stroke-width="2.1" fill="none"/><path d="M84.7 944.8L88.5 948.6M84.7 948.6L88.5 944.8" stroke="#FF00FF" stroke-width="1.35" fill="none"/>
<ellipse cx="91.2" cy="931" rx="4.1" ry="3.5" stroke="#FF00FF" stroke-width="2.1" fill="none"/><path d="M89.3 929.4L93.1 933.2M89.3 933.2L93.1 929.4" stroke="#FF00FF" stroke-width="1.35" fill="none"/>
<ellipse cx="95.8" cy="913.8" rx="4.1" ry="3.5" stroke="#FF00FF" stroke-width="2.1" fill="none"/><path d="M93.9 912.2L97.7 916M93.9 916L97.7 912.2" stroke="#FF00FF" stroke-width="1.35" fill="none"/>
<ellipse cx="100.4" cy="900.6" rx="4.1" ry="3.5" stroke="#FF00FF" stroke-width="2.1" fill="none"/><path d="M98.5 899L102.3 902.8M98.5 902.8L102.3 899" stroke="#FF00FF" stroke-width="1.35" fill="none"/>
<ellipse cx="153" cy="875" rx="4.1" ry="3.5" stroke="#FF00FF" stroke-width="2.1" fill="none"/><path d="M151.1 873.4L154.9 877.2M151.1 877.2L154.9 873.4" stroke="#FF00FF" stroke-width="1.35" fill="none"/>
<ellipse cx="197.3" cy="862.7" rx="4.1" ry="3.5" stroke="#FF00FF" stroke-width="2.1" fill="none"/><path d="M195.4 861.1L199.2 864.9M195.4 864.9L199.2 861.1" stroke="#FF00FF" stroke-width="1.35" fill="none"/>
<ellipse cx="241.5" cy="855" rx="4.1" ry="3.5" stroke="#FF00FF" stroke-width="2.1" fill="none"/><path d="M239.6 853.4L243.4 857.2M239.6 857.2L243.4 853.4" stroke="#FF00FF" stroke-width="1.35" fill="none"/>
<ellipse cx="285.9" cy="848.7" rx="4.1" ry="3.5" stroke="#FF00FF" stroke-width="2.1" fill="none"/><path d="M284 847.1L287.8 850.9M284 850.9L287.8 847.1" stroke="#FF00FF" stroke-width="1.35" fill="none"/>
<ellipse cx="374.8" cy="839.2" rx="4.1" ry="3.5" stroke="#FF00FF" stroke-width="2.1" fill="none"/><path d="M372.9 837.6L376.7 841.4M372.9 841.4L376.7 837.6" stroke="#FF00FF" stroke-width="1.35" fill="none"/>
<ellipse cx="417.3" cy="836.1" rx="4.1" ry="3.5" stroke="#FF00FF" stroke-width="2.1" fill="none"/><path d="M415.4 834.5L419.2 838.3M415.4 838.3L419.2 834.5" stroke="#FF00FF" stroke-width="1.35" fill="none"/>
<ellipse cx="463" cy="832.5" rx="4.1" ry="3.5" stroke="#FF00FF" stroke-width="2.1" fill="none"/><path d="M461.1 830.9L464.9 834.7M461.1 834.7L464.9 830.9" stroke="#FF00FF" stroke-width="1.35" fill="none"/>
<ellipse cx="507.7" cy="830.2" rx="4.1" ry="3.5" stroke="#FF00FF" stroke-width="2.1" fill="none"/><path d="M505.8 828.6L509.6 832.4M505.8 832.4L509.6 828.6" stroke="#FF00FF" stroke-width="1.35" fill="none"/>
<ellipse cx="66.7" cy="1002.2" rx="4.1" ry="3.5" stroke="#EDB120" stroke-width="2.1" fill="none"/><path d="M64.8 1000.6L68.6 1004.4M64.8 1004.4L68.6 1000.6" stroke="#EDB120" stroke-width="1.35" fill="none"/>
<ellipse cx="71.1" cy="1002.2" rx="4.1" ry="3.5" stroke="#EDB120" stroke-width="2.1" fill="none"/><path d="M69.2 1000.6L73 1004.4M69.2 1004.4L73 1000.6" stroke="#EDB120" stroke-width="1.35" fill="none"/>
<ellipse cx="75.5" cy="1002.2" rx="4.1" ry="3.5" stroke="#EDB120" stroke-width="2.1" fill="none"/><path d="M73.6 1000.6L77.4 1004.4M73.6 1004.4L77.4 1000.6" stroke="#EDB120" stroke-width="1.35" fill="none"/>
<ellipse cx="79.9" cy="1002.2" rx="4.1" ry="3.5" stroke="#EDB120" stroke-width="2.1" fill="none"/><path d="M78 1000.6L81.8 1004.4M78 1004.4L81.8 1000.6" stroke="#EDB120" stroke-width="1.35" fill="none"/>
<ellipse cx="84.3" cy="995.2" rx="4.1" ry="3.5" stroke="#EDB120" stroke-width="2.1" fill="none"/><path d="M82.4 993.6L86.2 997.4M82.4 997.4L86.2 993.6" stroke="#EDB120" stroke-width="1.35" fill="none"/>
<ellipse cx="90.4" cy="985.8" rx="4.1" ry="3.5" stroke="#EDB120" stroke-width="2.1" fill="none"/><path d="M88.5 984.2L92.3 988M88.5 988L92.3 984.2" stroke="#EDB120" stroke-width="1.35" fill="none"/>
<ellipse cx="94.9" cy="969.5" rx="4.1" ry="3.5" stroke="#EDB120" stroke-width="2.1" fill="none"/><path d="M93 967.9L96.8 971.7M93 971.7L96.8 967.9" stroke="#EDB120" stroke-width="1.35" fill="none"/>
<ellipse cx="99.9" cy="957.2" rx="4.1" ry="3.5" stroke="#EDB120" stroke-width="2.1" fill="none"/><path d="M98 955.6L101.8 959.4M98 959.4L101.8 955.6" stroke="#EDB120" stroke-width="1.35" fill="none"/>
<ellipse cx="153" cy="903.6" rx="4.1" ry="3.5" stroke="#EDB120" stroke-width="2.1" fill="none"/><path d="M151.1 902L154.9 905.8M151.1 905.8L154.9 902" stroke="#EDB120" stroke-width="1.35" fill="none"/>
<ellipse cx="197.3" cy="885" rx="4.1" ry="3.5" stroke="#EDB120" stroke-width="2.1" fill="none"/><path d="M195.4 883.4L199.2 887.2M195.4 887.2L199.2 883.4" stroke="#EDB120" stroke-width="1.35" fill="none"/>
<ellipse cx="241.5" cy="872.5" rx="4.1" ry="3.5" stroke="#EDB120" stroke-width="2.1" fill="none"/><path d="M239.6 870.9L243.4 874.7M239.6 874.7L243.4 870.9" stroke="#EDB120" stroke-width="1.35" fill="none"/>
<ellipse cx="285.9" cy="863.7" rx="4.1" ry="3.5" stroke="#EDB120" stroke-width="2.1" fill="none"/><path d="M284 862.1L287.8 865.9M284 865.9L287.8 862.1" stroke="#EDB120" stroke-width="1.35" fill="none"/>
<ellipse cx="330.6" cy="856.6" rx="4.1" ry="3.5" stroke="#EDB120" stroke-width="2.1" fill="none"/><path d="M328.7 855L332.5 858.8M328.7 858.8L332.5 855" stroke="#EDB120" stroke-width="1.35" fill="none"/>
<ellipse cx="374.8" cy="850.7" rx="4.1" ry="3.5" stroke="#EDB120" stroke-width="2.1" fill="none"/><path d="M372.9 849.1L376.7 852.9M372.9 852.9L376.7 849.1" stroke="#EDB120" stroke-width="1.35" fill="none"/>
<ellipse cx="417.3" cy="846.4" rx="4.1" ry="3.5" stroke="#EDB120" stroke-width="2.1" fill="none"/><path d="M415.4 844.8L419.2 848.6M415.4 848.6L419.2 844.8" stroke="#EDB120" stroke-width="1.35" fill="none"/>
<ellipse cx="463" cy="842.7" rx="4.1" ry="3.5" stroke="#EDB120" stroke-width="2.1" fill="none"/><path d="M461.1 841.1L464.9 844.9M461.1 844.9L464.9 841.1" stroke="#EDB120" stroke-width="1.35" fill="none"/>
<ellipse cx="507.7" cy="838.8" rx="4.1" ry="3.5" stroke="#EDB120" stroke-width="2.1" fill="none"/><path d="M505.8 837.2L509.6 841M505.8 841L509.6 837.2" stroke="#EDB120" stroke-width="1.35" fill="none"/>
<ellipse cx="64.2" cy="1002.2" rx="4.1" ry="3.5" stroke="#0072BD" stroke-width="2.1" fill="none"/><path d="M62.3 1000.6L66.1 1004.4M62.3 1004.4L66.1 1000.6" stroke="#0072BD" stroke-width="1.35" fill="none"/>
<ellipse cx="66.4" cy="1002.2" rx="4.1" ry="3.5" stroke="#0072BD" stroke-width="2.1" fill="none"/><path d="M64.5 1000.6L68.3 1004.4M64.5 1004.4L68.3 1000.6" stroke="#0072BD" stroke-width="1.35" fill="none"/>
<ellipse cx="68.6" cy="1002.2" rx="4.1" ry="3.5" stroke="#0072BD" stroke-width="2.1" fill="none"/><path d="M66.7 1000.6L70.5 1004.4M66.7 1004.4L70.5 1000.6" stroke="#0072BD" stroke-width="1.35" fill="none"/>
<ellipse cx="70.8" cy="1002.2" rx="4.1" ry="3.5" stroke="#0072BD" stroke-width="2.1" fill="none"/><path d="M68.9 1000.6L72.7 1004.4M68.9 1004.4L72.7 1000.6" stroke="#0072BD" stroke-width="1.35" fill="none"/>
<ellipse cx="73" cy="1002.2" rx="4.1" ry="3.5" stroke="#0072BD" stroke-width="2.1" fill="none"/><path d="M71.1 1000.6L74.9 1004.4M71.1 1004.4L74.9 1000.6" stroke="#0072BD" stroke-width="1.35" fill="none"/>
<ellipse cx="75.2" cy="1002.2" rx="4.1" ry="3.5" stroke="#0072BD" stroke-width="2.1" fill="none"/><path d="M73.3 1000.6L77.1 1004.4M73.3 1004.4L77.1 1000.6" stroke="#0072BD" stroke-width="1.35" fill="none"/>
<ellipse cx="77.4" cy="1002.2" rx="4.1" ry="3.5" stroke="#0072BD" stroke-width="2.1" fill="none"/><path d="M75.5 1000.6L79.3 1004.4M75.5 1004.4L79.3 1000.6" stroke="#0072BD" stroke-width="1.35" fill="none"/>
<ellipse cx="79.6" cy="1002.2" rx="4.1" ry="3.5" stroke="#0072BD" stroke-width="2.1" fill="none"/><path d="M77.7 1000.6L81.5 1004.4M77.7 1004.4L81.5 1000.6" stroke="#0072BD" stroke-width="1.35" fill="none"/>
<ellipse cx="81.8" cy="1002.2" rx="4.1" ry="3.5" stroke="#0072BD" stroke-width="2.1" fill="none"/><path d="M79.9 1000.6L83.7 1004.4M79.9 1004.4L83.7 1000.6" stroke="#0072BD" stroke-width="1.35" fill="none"/>
<ellipse cx="84" cy="1002.2" rx="4.1" ry="3.5" stroke="#0072BD" stroke-width="2.1" fill="none"/><path d="M82.1 1000.6L85.9 1004.4M82.1 1004.4L85.9 1000.6" stroke="#0072BD" stroke-width="1.35" fill="none"/>
<ellipse cx="86" cy="1002.2" rx="4.1" ry="3.5" stroke="#0072BD" stroke-width="2.1" fill="none"/><path d="M84.1 1000.6L87.9 1004.4M84.1 1004.4L87.9 1000.6" stroke="#0072BD" stroke-width="1.35" fill="none"/>
<ellipse cx="88.4" cy="1001.2" rx="4.1" ry="3.5" stroke="#0072BD" stroke-width="2.1" fill="none"/><path d="M86.5 999.6L90.3 1003.4M86.5 1003.4L90.3 999.6" stroke="#0072BD" stroke-width="1.35" fill="none"/>
<ellipse cx="91.8" cy="996.4" rx="4.1" ry="3.5" stroke="#0072BD" stroke-width="2.1" fill="none"/><path d="M89.9 994.8L93.7 998.6M89.9 998.6L93.7 994.8" stroke="#0072BD" stroke-width="1.35" fill="none"/>
<ellipse cx="95.8" cy="987.7" rx="4.1" ry="3.5" stroke="#0072BD" stroke-width="2.1" fill="none"/><path d="M93.9 986.1L97.7 989.9M93.9 989.9L97.7 986.1" stroke="#0072BD" stroke-width="1.35" fill="none"/>
<ellipse cx="100.2" cy="973.9" rx="4.1" ry="3.5" stroke="#0072BD" stroke-width="2.1" fill="none"/><path d="M98.3 972.3L102.1 976.1M98.3 976.1L102.1 972.3" stroke="#0072BD" stroke-width="1.35" fill="none"/>
<ellipse cx="139.6" cy="933.3" rx="4.1" ry="3.5" stroke="#0072BD" stroke-width="2.1" fill="none"/><path d="M137.7 931.7L141.5 935.5M137.7 935.5L141.5 931.7" stroke="#0072BD" stroke-width="1.35" fill="none"/>
<ellipse cx="152.6" cy="922.5" rx="4.1" ry="3.5" stroke="#0072BD" stroke-width="2.1" fill="none"/><path d="M150.7 920.9L154.5 924.7M150.7 924.7L154.5 920.9" stroke="#0072BD" stroke-width="1.35" fill="none"/>
<ellipse cx="175.4" cy="910.6" rx="4.1" ry="3.5" stroke="#0072BD" stroke-width="2.1" fill="none"/><path d="M173.5 909L177.3 912.8M173.5 912.8L177.3 909" stroke="#0072BD" stroke-width="1.35" fill="none"/>
<ellipse cx="197.3" cy="901.2" rx="4.1" ry="3.5" stroke="#0072BD" stroke-width="2.1" fill="none"/><path d="M195.4 899.6L199.2 903.4M195.4 903.4L199.2 899.6" stroke="#0072BD" stroke-width="1.35" fill="none"/>
<ellipse cx="219.6" cy="893.5" rx="4.1" ry="3.5" stroke="#0072BD" stroke-width="2.1" fill="none"/><path d="M217.7 891.9L221.5 895.7M217.7 895.7L221.5 891.9" stroke="#0072BD" stroke-width="1.35" fill="none"/>
<ellipse cx="241.5" cy="887" rx="4.1" ry="3.5" stroke="#0072BD" stroke-width="2.1" fill="none"/><path d="M239.6 885.4L243.4 889.2M239.6 889.2L243.4 885.4" stroke="#0072BD" stroke-width="1.35" fill="none"/>
<ellipse cx="263.8" cy="882" rx="4.1" ry="3.5" stroke="#0072BD" stroke-width="2.1" fill="none"/><path d="M261.9 880.4L265.7 884.2M261.9 884.2L265.7 880.4" stroke="#0072BD" stroke-width="1.35" fill="none"/>
<ellipse cx="285.9" cy="877.2" rx="4.1" ry="3.5" stroke="#0072BD" stroke-width="2.1" fill="none"/><path d="M284 875.6L287.8 879.4M284 879.4L287.8 875.6" stroke="#0072BD" stroke-width="1.35" fill="none"/>
<ellipse cx="308.3" cy="873.1" rx="4.1" ry="3.5" stroke="#0072BD" stroke-width="2.1" fill="none"/><path d="M306.4 871.5L310.2 875.3M306.4 875.3L310.2 871.5" stroke="#0072BD" stroke-width="1.35" fill="none"/>
<ellipse cx="330.6" cy="870.3" rx="4.1" ry="3.5" stroke="#0072BD" stroke-width="2.1" fill="none"/><path d="M328.7 868.7L332.5 872.5M328.7 872.5L332.5 868.7" stroke="#0072BD" stroke-width="1.35" fill="none"/>
<ellipse cx="374.8" cy="864.4" rx="4.1" ry="3.5" stroke="#0072BD" stroke-width="2.1" fill="none"/><path d="M372.9 862.8L376.7 866.6M372.9 866.6L376.7 862.8" stroke="#0072BD" stroke-width="1.35" fill="none"/>
<ellipse cx="397.1" cy="862.6" rx="4.1" ry="3.5" stroke="#0072BD" stroke-width="2.1" fill="none"/><path d="M395.2 861L399 864.8M395.2 864.8L399 861" stroke="#0072BD" stroke-width="1.35" fill="none"/>
<ellipse cx="417.3" cy="860.2" rx="4.1" ry="3.5" stroke="#0072BD" stroke-width="2.1" fill="none"/><path d="M415.4 858.6L419.2 862.4M415.4 862.4L419.2 858.6" stroke="#0072BD" stroke-width="1.35" fill="none"/>
<ellipse cx="441.2" cy="858.6" rx="4.1" ry="3.5" stroke="#0072BD" stroke-width="2.1" fill="none"/><path d="M439.3 857L443.1 860.8M439.3 860.8L443.1 857" stroke="#0072BD" stroke-width="1.35" fill="none"/>
<ellipse cx="463" cy="857.2" rx="4.1" ry="3.5" stroke="#0072BD" stroke-width="2.1" fill="none"/><path d="M461.1 855.6L464.9 859.4M461.1 859.4L464.9 855.6" stroke="#0072BD" stroke-width="1.35" fill="none"/>
<ellipse cx="485.4" cy="856.1" rx="4.1" ry="3.5" stroke="#0072BD" stroke-width="2.1" fill="none"/><path d="M483.5 854.5L487.3 858.3M483.5 858.3L487.3 854.5" stroke="#0072BD" stroke-width="1.35" fill="none"/>
<ellipse cx="507.7" cy="855" rx="4.1" ry="3.5" stroke="#0072BD" stroke-width="2.1" fill="none"/><path d="M505.8 853.4L509.6 857.2M505.8 857.2L509.6 853.4" stroke="#0072BD" stroke-width="1.35" fill="none"/>
<path d="M62.5 1004.5v-4.5M62.5 819.5v4.5M151.5 1004.5v-4.5M151.5 819.5v4.5M241.5 1004.5v-4.5M241.5 819.5v4.5M331.5 1004.5v-4.5M331.5 819.5v4.5M421.5 1004.5v-4.5M421.5 819.5v4.5M511.5 1004.5v-4.5M511.5 819.5v4.5M62.5 1004.5h4.5M510.5 1004.5h-4.5M62.5 943.5h4.5M510.5 943.5h-4.5M62.5 881.5h4.5M510.5 881.5h-4.5M62.5 820.5h4.5M510.5 820.5h-4.5" stroke="#606060" stroke-width="1" fill="none"/>
<rect x="62.5" y="819.5" width="448.0" height="185.0" fill="none" stroke="#606060" stroke-width="1"/>
<text x="57.5" y="1008.6" font-size="13.5" text-anchor="end" fill="#262626" stroke="#262626" stroke-width="0.2" >0</text>
<text x="57.5" y="947.1" font-size="13.5" text-anchor="end" fill="#262626" stroke="#262626" stroke-width="0.2" >1</text>
<text x="57.5" y="885.6" font-size="13.5" text-anchor="end" fill="#262626" stroke="#262626" stroke-width="0.2" >2</text>
<text x="57.5" y="824.1" font-size="13.5" text-anchor="end" fill="#262626" stroke="#262626" stroke-width="0.2" >3</text>
<text x="62" y="1020.6" font-size="13" text-anchor="middle" fill="#262626" stroke="#262626" stroke-width="0.2" >0</text>
<text x="151.8" y="1020.6" font-size="13" text-anchor="middle" fill="#262626" stroke="#262626" stroke-width="0.2" >2</text>
<text x="241.6" y="1020.6" font-size="13" text-anchor="middle" fill="#262626" stroke="#262626" stroke-width="0.2" >4</text>
<text x="331.4" y="1020.6" font-size="13" text-anchor="middle" fill="#262626" stroke="#262626" stroke-width="0.2" >6</text>
<text x="421.2" y="1020.6" font-size="13" text-anchor="middle" fill="#262626" stroke="#262626" stroke-width="0.2" >8</text>
<text x="511" y="1020.6" font-size="13" text-anchor="middle" fill="#262626" stroke="#262626" stroke-width="0.2" >10</text>
<text x="286.7" y="1035" font-size="14" text-anchor="middle" fill="#262626" stroke="#262626" stroke-width="0.2" >T (K)</text>
<text x="286.7" y="811.3" font-size="13.5" text-anchor="middle" fill="#262626" stroke="#262626" stroke-width="0.2"><tspan font-style="italic">B</tspan> = 0 T</text>
<text x="61.3" y="814.8" font-size="10.5" text-anchor="start" fill="#262626" stroke="#262626" stroke-width="0.2" >×10</text>
<text x="80.6" y="810.6" font-size="7.2" text-anchor="start" fill="#262626" stroke="#262626" stroke-width="0.2" >4</text>
<text x="1" y="814.7" font-size="15.5" text-anchor="start" fill="#1a1a1a"  letter-spacing="0.6" stroke="#1a1a1a" stroke-width="0.12">(d)</text>
<text transform="translate(19,913.6) rotate(-90)" font-size="15" text-anchor="middle" fill="#262626" stroke="#262626" stroke-width="0.2" xml:space="preserve"><tspan>σ</tspan><tspan font-size="10" font-style="italic" dy="3.5">xx</tspan><tspan dy="-3.5">  (e</tspan><tspan font-size="9" dy="-3.4">2</tspan><tspan dy="3.4">/</tspan><tspan font-style="italic">h</tspan>)</text>
<rect x="356.5" y="891.5" width="57" height="46.5" fill="#fff" stroke="#8a8a8a" stroke-width="1"/>
<text x="360" y="903.6" font-size="10.3" text-anchor="start" fill="#e238e2" stroke="#e238e2" stroke-width="0.2" >T</text>
<text x="365.6" y="906.8" font-size="6.6" text-anchor="start" fill="#e238e2" stroke="#e238e2" stroke-width="0.2" >0</text>
<text x="371.3" y="903.6" font-size="10.2" text-anchor="start" fill="#e238e2" stroke="#e238e2" stroke-width="0.2" xml:space="preserve">= 0.68 K</text>
<text x="360" y="918.3" font-size="10.3" text-anchor="start" fill="#2a78bc" stroke="#2a78bc" stroke-width="0.2" >T</text>
<text x="365.6" y="921.5" font-size="6.6" text-anchor="start" fill="#2a78bc" stroke="#2a78bc" stroke-width="0.2" >0</text>
<text x="371.3" y="918.3" font-size="10.2" text-anchor="start" fill="#2a78bc" stroke="#2a78bc" stroke-width="0.2" xml:space="preserve">= 1.57 K</text>
<text x="360" y="933" font-size="10.3" text-anchor="start" fill="#f2c250" stroke="#f2c250" stroke-width="0.2" >T</text>
<text x="365.6" y="936.2" font-size="6.6" text-anchor="start" fill="#f2c250" stroke="#f2c250" stroke-width="0.2" >0</text>
<text x="371.3" y="933" font-size="10.2" text-anchor="start" fill="#f2c250" stroke="#f2c250" stroke-width="0.2" xml:space="preserve">= 1.36 K</text>
<rect x="415.5" y="891.5" width="86.5" height="46.5" fill="#fff" stroke="#8a8a8a" stroke-width="1"/>
<path d="M419.4 897.4L424.6 902.6M419.4 902.6L424.6 897.4" stroke="#FF00FF" stroke-width="1.6" fill="none"/>
<circle cx="430.3" cy="900" r="3.2" stroke="#FF00FF" stroke-width="1.6" fill="none"/>
<text x="438.6" y="903.6" font-size="10.3" text-anchor="start" fill="#262626" stroke="#262626" stroke-width="0.2" >V</text>
<text x="445.8" y="907" font-size="7.4" text-anchor="start" fill="#262626" stroke="#262626" stroke-width="0.2" >Gate</text>
<text x="462" y="903.6" font-size="9.9" text-anchor="start" fill="#262626" stroke="#262626" stroke-width="0.2" >= –8 V</text>
<path d="M419.4 912.1L424.6 917.3M419.4 917.3L424.6 912.1" stroke="#0072BD" stroke-width="1.6" fill="none"/>
<circle cx="430.3" cy="914.7" r="3.2" stroke="#0072BD" stroke-width="1.6" fill="none"/>
<text x="438.6" y="918.3" font-size="10.3" text-anchor="start" fill="#262626" stroke="#262626" stroke-width="0.2" >V</text>
<text x="445.8" y="921.7" font-size="7.4" text-anchor="start" fill="#262626" stroke="#262626" stroke-width="0.2" >Gate</text>
<text x="462" y="918.3" font-size="9.9" text-anchor="start" fill="#262626" stroke="#262626" stroke-width="0.2" >= –1.9 V</text>
<path d="M419.4 926.8L424.6 932M419.4 932L424.6 926.8" stroke="#EDB120" stroke-width="1.6" fill="none"/>
<circle cx="430.3" cy="929.4" r="3.2" stroke="#EDB120" stroke-width="1.6" fill="none"/>
<text x="438.6" y="933" font-size="10.3" text-anchor="start" fill="#262626" stroke="#262626" stroke-width="0.2" >V</text>
<text x="445.8" y="936.4" font-size="7.4" text-anchor="start" fill="#262626" stroke="#262626" stroke-width="0.2" >Gate</text>
<text x="462" y="933" font-size="9.9" text-anchor="start" fill="#262626" stroke="#262626" stroke-width="0.2" >= –0.3 V</text>
<rect x="423.5" y="958.5" width="70.5" height="26" fill="#fff" stroke="#8a8a8a" stroke-width="1"/>
<circle cx="430.8" cy="965" r="3.2" stroke="#808080" stroke-width="1.4" fill="none"/>
<text x="440" y="968.8" font-size="10.3" text-anchor="start" fill="#262626" stroke="#262626" stroke-width="0.2" >–5 T to 5 T</text>
<path d="M428.3 974.8L433.3 979.8M428.3 979.8L433.3 974.8" stroke="#808080" stroke-width="1.4" fill="none"/>
<text x="440" y="981.1" font-size="10.3" text-anchor="start" fill="#262626" stroke="#262626" stroke-width="0.2" >5 T to –5 T</text>
</svg>
</body></html>
